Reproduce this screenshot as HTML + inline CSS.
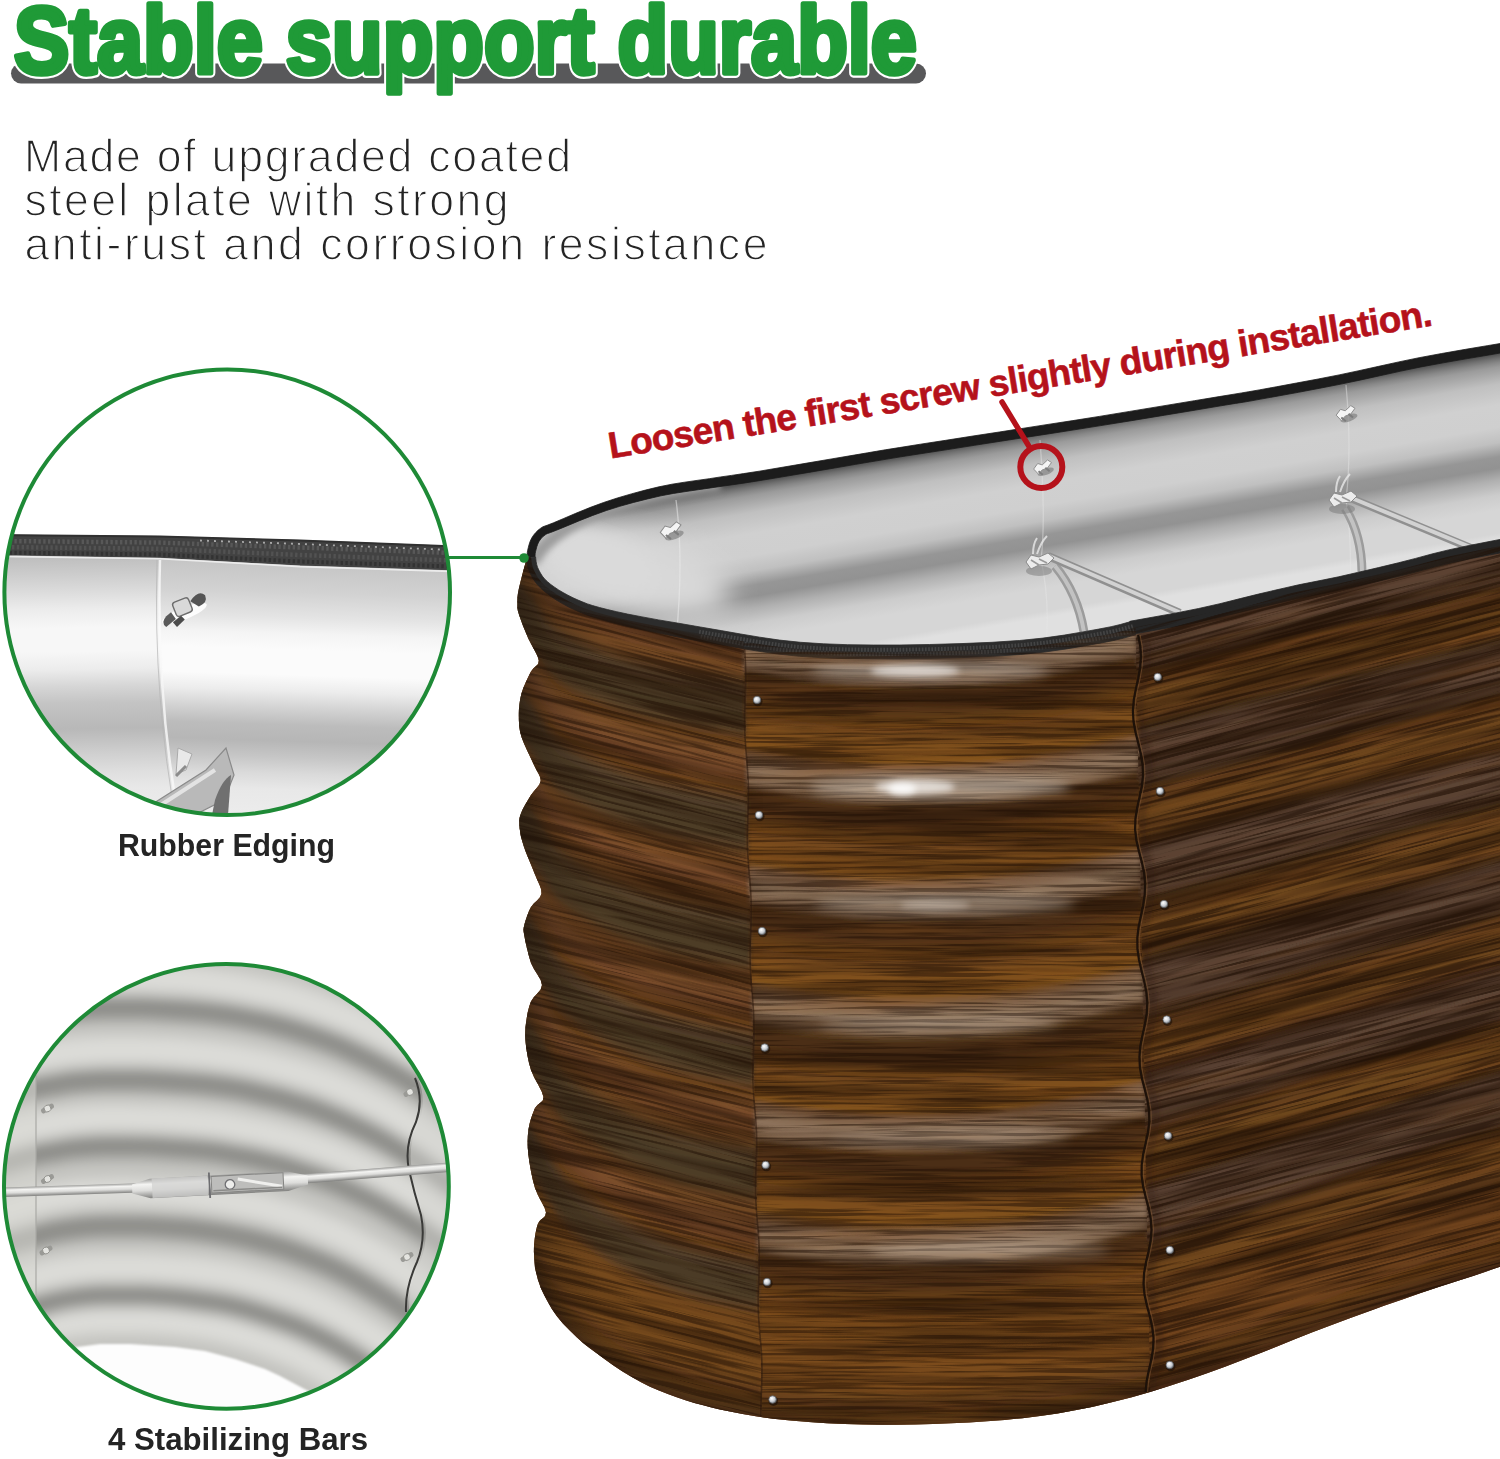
<!DOCTYPE html>
<html><head><meta charset="utf-8"><title>Stable support durable</title>
<style>html,body{margin:0;padding:0;background:#fff;}svg{display:block;}text{font-family:"Liberation Sans",sans-serif;}</style>
</head><body>
<svg width="1500" height="1459" viewBox="0 0 1500 1459">
<defs>
<clipPath id="bodyclip"><path d="M527,557 L525.4,563.2 L523,572.1 L520.6,581.5 L518.8,589 L517.9,593.8 L517.5,597.3 L517.4,600.1 L517.4,603 L517.4,605.6 L517.4,607.8 L517.8,610.4 L518.8,614 L520.6,619.3 L523,625.7 L525.8,632.4 L528.4,638.7 L531.4,644.6 L534.7,650.5 L537.5,656 L538.8,660.6 L538.2,663.9 L536.1,666.1 L533.5,668.3 L531,671.6 L528.6,676.3 L525.9,681.9 L523.4,687.8 L521.5,693.5 L520.2,699 L519.4,704.5 L518.9,710 L518.8,715.5 L518.9,720.8 L519.2,725.9 L520,731.2 L521.5,737 L524.1,743.8 L527.5,751.3 L531.1,758.7 L534,765 L536.5,769.9 L538.7,773.9 L540.3,777.4 L540.7,781 L539.4,784.5 L536.9,787.8 L533.9,791.2 L531,795 L528.3,799.5 L525.3,804.5 L522.6,809.5 L520.7,814 L519.6,817.7 L519.2,821 L519.3,824.3 L519.6,828 L520.2,832.2 L521,836.7 L522.3,841.5 L524,847 L526.4,853.5 L529.4,860.7 L532.4,868 L535,874.5 L537.3,880 L539.6,885 L541.2,889.5 L541.5,893.7 L540,897.3 L537.1,900.4 L533.8,903.5 L531,907 L528.9,911.3 L527,916.2 L525.4,920.9 L524.3,925 L523.7,927.8 L523.5,929.7 L523.7,931.9 L524.3,935.6 L525.4,941.4 L527,948.6 L528.9,956.1 L531,963 L534,969 L537.6,974.7 L540.7,980 L542,985 L540.7,989.4 L537.5,993.3 L533.8,997.2 L531,1001.5 L529.2,1006.6 L527.8,1012.1 L526.8,1017.6 L526,1023 L525.4,1027.9 L525.2,1032.4 L525.2,1037.2 L525.6,1042.6 L526.4,1048.9 L527.5,1055.8 L529,1063 L531,1070 L534.1,1077.2 L538.1,1084.5 L541.7,1091.4 L543.5,1097 L542.8,1100.6 L540.4,1102.8 L537.5,1104.9 L535,1108 L533.1,1112.7 L531.2,1118.1 L529.5,1124 L528.4,1130 L527.8,1135.9 L527.6,1141.8 L527.8,1148.1 L528.4,1155 L529.5,1162.9 L531,1171.5 L532.9,1180.2 L535,1188 L537.9,1195.1 L541.4,1201.7 L544.5,1207.6 L546,1212.6 L545.2,1216 L542.9,1218.2 L540.2,1220.3 L538,1223.5 L536.6,1228.2 L535.4,1233.8 L534.6,1239.7 L534,1245.5 L533.9,1251.6 L534.2,1258.1 L534.7,1263.9 L535,1268 L538,1280 L539.1,1283.1 L540.7,1287.7 L543.3,1293.3 L546.9,1300.2 L551.4,1308.2 L556.7,1316 L562.9,1323.4 L569.8,1330.6 L576.7,1337.3 L583.1,1342.9 L589.5,1348 L596.7,1353.3 L605.1,1359.5 L614.2,1366 L623.3,1372 L632.2,1377.3 L641.1,1382.3 L650,1386.7 L658.9,1390.6 L667.8,1394.1 L676.7,1397.3 L685.6,1400.2 L694.4,1402.9 L703.3,1405.3 L711.6,1407.5 L719.9,1409.4 L730,1411.5 L742.7,1413.9 L757.2,1416.5 L773,1418.7 L790.2,1420.5 L808.7,1422 L827,1423.2 L844.7,1424 L862.4,1424.6 L880,1424.8 L897.6,1424.8 L915.3,1424.5 L933,1424 L951,1423.3 L969,1422.5 L987,1421.3 L1004.7,1419.9 L1022.4,1418.2 L1040,1416 L1057.5,1413.4 L1075,1410.3 L1093,1406.7 L1111.7,1402.3 L1130.9,1397.4 L1150,1392 L1169.1,1386.1 L1188.3,1379.8 L1207,1373.3 L1225,1366.8 L1242.5,1360.1 L1260,1353.3 L1277.6,1346.2 L1295.3,1339.1 L1313,1332 L1331,1325.2 L1349,1318.5 L1367,1312 L1384.7,1305.6 L1402.4,1299.4 L1420,1293.3 L1438.6,1287.1 L1457.3,1281.1 L1473,1276 L1484.9,1272 L1494,1268.8 L1500,1266.7 L1503,545.6 L1503,545.6 L1489.1,548.3 L1469.4,552.2 L1450,556.3 L1433.5,560.4 L1417.3,564.7 L1400,569.2 L1380,574 L1358.9,578.9 L1340,583.2 L1325.2,586.3 L1312.6,588.7 L1300,591.3 L1287.4,594.1 L1274.8,597 L1260,600.5 L1241.8,605 L1221.4,610.1 L1200,615 L1175.1,619.9 L1149.2,624.5 L1131,627.8 L1134,628 L1126.9,629.9 L1116,632.8 L1100,636 L1078.2,639.8 L1051.3,644.1 L1020,647.5 L982.2,649.8 L940,651.3 L900,652 L864.4,652 L831.1,651.1 L800,649.3 L771.9,646.1 L745.9,642 L720,637.5 L691.9,632.6 L663.9,627.5 L640,622.8 L622.4,619 L609.1,615.8 L598,612.8 L589.1,610.1 L582.4,607.6 L576,604.8 L569,601.5 L562.2,597.8 L556,594 L550.4,590.1 L545.4,586.1 L541.2,582 L537.8,577.6 L535.2,573.1 L533.2,568.8 L532,564.5 L531.4,560.4 L531,557.5Z"/></clipPath>
<linearGradient id="ing" gradientUnits="userSpaceOnUse" x1="900" y1="451" x2="934.4" y2="651"><stop offset="0" stop-color="#444"/><stop offset="0.03" stop-color="#555"/><stop offset="0.05" stop-color="#717171"/><stop offset="0.07" stop-color="#888"/><stop offset="0.092" stop-color="#9b9b9b"/><stop offset="0.13" stop-color="#acacac"/><stop offset="0.175" stop-color="#c0c0c0"/><stop offset="0.277" stop-color="#d0d0d0"/><stop offset="0.384" stop-color="#cfcfcf"/><stop offset="0.459" stop-color="#c0c0c0"/><stop offset="0.529" stop-color="#969696"/><stop offset="0.583" stop-color="#929292"/><stop offset="0.641" stop-color="#b0b0b0"/><stop offset="0.714" stop-color="#cccccc"/><stop offset="0.787" stop-color="#d6d6d6"/><stop offset="0.898" stop-color="#d6d6d6"/><stop offset="0.93" stop-color="#e0e0e0"/><stop offset="1" stop-color="#e0e0e0"/></linearGradient>
<clipPath id="inclip"><path d="M531,557 L531,556 L531.1,554.7 L531.2,553 L531.6,551 L532.2,548.5 L533,545.7 L533.9,542.7 L535.2,540 L536.8,537.6 L538.6,535.4 L540.7,533.3 L543,531.5 L544.8,530.4 L546.4,529.7 L549.2,528.7 L555,526.5 L564.7,522.4 L577.3,517.1 L591.3,511.5 L605,506.5 L618.5,502.2 L632.5,498.1 L646.5,494.5 L660,491.3 L672.9,488.8 L685.3,486.8 L697.6,485.1 L710,483.3 L721.4,481.6 L732.2,480.1 L744.3,478.3 L760,475.8 L781.8,472.2 L807.8,467.7 L833.7,463.3 L855,459.7 L868.5,457.4 L877.2,455.9 L886.1,454.4 L900,452.2 L921.1,448.9 L946.6,444.9 L973.7,440.7 L1000,436.6 L1024.5,432.8 L1048.8,429.1 L1073.6,425.2 L1100,421 L1130.5,416 L1163.8,410.5 L1195.2,405.3 L1220,401.2 L1234.7,398.8 L1242.5,397.5 L1249.1,396.5 L1260,394.5 L1277.2,391.4 L1297.5,387.7 L1319.1,383.6 L1340,379.5 L1359.9,375.3 L1379.8,370.9 L1399.8,366.5 L1420,362.3 L1442.5,358.1 L1466.5,354 L1488,350.3 L1503,347.8 L1500,546 L1503,545.6 L1489.1,548.3 L1469.4,552.2 L1450,556.3 L1433.5,560.4 L1417.3,564.7 L1400,569.2 L1380,574 L1358.9,578.9 L1340,583.2 L1325.2,586.3 L1312.6,588.7 L1300,591.3 L1287.4,594.1 L1274.8,597 L1260,600.5 L1241.8,605 L1221.4,610.1 L1200,615 L1175.1,619.9 L1149.2,624.5 L1131,627.8 L1134,628 L1129,629.4 L1122,631.3 L1112.5,633.6 L1100,636 L1084.2,638.8 L1065.4,642 L1043.9,645 L1020,647.5 L992.3,649.3 L961.2,650.6 L929.5,651.5 L900,652 L873.1,652 L847.5,651.7 L823.1,650.8 L800,649.3 L778.6,647.1 L758.8,644.1 L739.5,640.9 L720,637.5 L699.1,633.9 L677.6,630 L657.3,626.2 L640,622.8 L626.4,619.9 L615.4,617.4 L606.2,615 L598,612.8 L591,610.7 L585.6,608.8 L580.9,607 L576,604.8 L570.7,602.3 L565.5,599.6 L560.6,596.9 L556,594 L551.8,591.1 L547.9,588.1 L544.3,585.1 L541.2,582 L538.6,578.7 L536.4,575.4 L534.6,572 L533.2,568.8 L532.2,565.6 L531.6,562.3 L531.3,559.5 L531,557.5Z"/></clipPath>
<filter id="b8" x="-20%" y="-20%" width="140%" height="140%"><feGaussianBlur stdDeviation="8"/></filter>
<filter id="b14" x="-30%" y="-30%" width="160%" height="160%"><feGaussianBlur stdDeviation="14"/></filter>
<filter id="b3" filterUnits="userSpaceOnUse" x="480" y="330" width="1040" height="1130"><feGaussianBlur stdDeviation="3"/></filter>
<filter id="b6" filterUnits="userSpaceOnUse" x="480" y="330" width="1040" height="1130"><feGaussianBlur stdDeviation="6"/></filter>
<filter id="b2" filterUnits="userSpaceOnUse" x="480" y="330" width="1040" height="1130"><feGaussianBlur stdDeviation="2"/></filter>
<filter id="b1"><feGaussianBlur stdDeviation="1"/></filter>
<filter id="grainA" x="0" y="0" width="100%" height="100%" color-interpolation-filters="sRGB"><feTurbulence type="fractalNoise" baseFrequency="0.0025 0.06" numOctaves="4" seed="7"/><feColorMatrix type="matrix" values="0 0 0 0 0.15  0 0 0 0 0.08  0 0 0 0 0.03  3.2 0 0 0 -1.35"/></filter>
<filter id="grainB" x="0" y="0" width="100%" height="100%" color-interpolation-filters="sRGB"><feTurbulence type="fractalNoise" baseFrequency="0.008 0.3" numOctaves="3" seed="11"/><feColorMatrix type="matrix" values="0 0 0 0 0.12  0 0 0 0 0.06  0 0 0 0 0.02  5 0 0 0 -2.3"/></filter>
<filter id="grainL" x="0" y="0" width="100%" height="100%" color-interpolation-filters="sRGB"><feTurbulence type="fractalNoise" baseFrequency="0.004 0.06" numOctaves="4" seed="23"/><feColorMatrix type="matrix" values="0 0 0 0 0.72  0 0 0 0 0.42  0 0 0 0 0.14  2.2 0 0 0 -1.2"/></filter>
<clipPath id="pL" clip-path="url(#bodyclip)"><path d="M480,500 L743,611 L763,1456 L480,1459Z"/></clipPath>
<clipPath id="pC" clip-path="url(#bodyclip)"><path d="M743,611 L1135,597 L1151,1430 L763,1456Z"/></clipPath>
<clipPath id="pR" clip-path="url(#bodyclip)"><path d="M1135,597 L1500,500 L1500,1459 L1151,1430Z"/></clipPath>
<linearGradient id="ledge" x1="0" y1="0" x2="1" y2="0"><stop offset="0" stop-color="#1c120a" stop-opacity="0.55"/><stop offset="0.5" stop-color="#1c120a" stop-opacity="0.18"/><stop offset="1" stop-color="#1c120a" stop-opacity="0"/></linearGradient>
<radialGradient id="scr" cx="0.4" cy="0.35" r="0.7"><stop offset="0" stop-color="#ffffff"/><stop offset="0.55" stop-color="#c9cdd2"/><stop offset="1" stop-color="#6d7177"/></radialGradient>
<clipPath id="c1"><circle cx="227.2" cy="592.2" r="222.8"/></clipPath>
<clipPath id="c2"><circle cx="226.4" cy="1186.4" r="222.4"/></clipPath>
<filter id="cb7" filterUnits="userSpaceOnUse" x="-20" y="340" width="500" height="1100"><feGaussianBlur stdDeviation="7"/></filter>
<filter id="cb4" filterUnits="userSpaceOnUse" x="-20" y="340" width="500" height="1100"><feGaussianBlur stdDeviation="4"/></filter>
<filter id="cb15" filterUnits="userSpaceOnUse" x="-20" y="340" width="500" height="1100"><feGaussianBlur stdDeviation="1.2"/></filter>
<linearGradient id="c1L" gradientUnits="userSpaceOnUse" x1="0" y1="557" x2="4" y2="815"><stop offset="0" stop-color="#bdbdbd"/><stop offset="0.07" stop-color="#cccccc"/><stop offset="0.14" stop-color="#dcdcdc"/><stop offset="0.205" stop-color="#ececec"/><stop offset="0.28" stop-color="#f7f7f7"/><stop offset="0.37" stop-color="#f7f7f7"/><stop offset="0.44" stop-color="#ececec"/><stop offset="0.505" stop-color="#d6d6d6"/><stop offset="0.57" stop-color="#c4c4c4"/><stop offset="0.635" stop-color="#bcbcbc"/><stop offset="0.67" stop-color="#b8b8b8"/><stop offset="0.705" stop-color="#c0c0c0"/><stop offset="0.77" stop-color="#d0d0d0"/><stop offset="0.835" stop-color="#dedede"/><stop offset="0.9" stop-color="#e8e8e8"/><stop offset="1" stop-color="#ececec"/></linearGradient>
<linearGradient id="c1R" gradientUnits="userSpaceOnUse" x1="300" y1="565" x2="292" y2="815"><stop offset="0" stop-color="#c6c6c6"/><stop offset="0.11" stop-color="#d2d2d2"/><stop offset="0.21" stop-color="#e4e4e4"/><stop offset="0.275" stop-color="#f4f4f4"/><stop offset="0.34" stop-color="#fbfbfb"/><stop offset="0.44" stop-color="#fbfbfb"/><stop offset="0.505" stop-color="#ececec"/><stop offset="0.57" stop-color="#d4d4d4"/><stop offset="0.64" stop-color="#bcbcbc"/><stop offset="0.705" stop-color="#b6b6b6"/><stop offset="0.77" stop-color="#c6c6c6"/><stop offset="0.835" stop-color="#dadada"/><stop offset="0.9" stop-color="#e8e8e8"/><stop offset="1" stop-color="#ececec"/></linearGradient>
<linearGradient id="barg" x1="0" y1="0" x2="0" y2="1"><stop offset="0" stop-color="#9d9d9b"/><stop offset="0.28" stop-color="#f4f4f2"/><stop offset="0.6" stop-color="#dcdcda"/><stop offset="1" stop-color="#828280"/></linearGradient>
</defs>
<rect width="1500" height="1459" fill="#fff"/>
<path d="M531,557 L531,556 L531.1,554.7 L531.2,553 L531.6,551 L532.2,548.5 L533,545.7 L533.9,542.7 L535.2,540 L536.8,537.6 L538.6,535.4 L540.7,533.3 L543,531.5 L544.8,530.4 L546.4,529.7 L549.2,528.7 L555,526.5 L564.7,522.4 L577.3,517.1 L591.3,511.5 L605,506.5 L618.5,502.2 L632.5,498.1 L646.5,494.5 L660,491.3 L672.9,488.8 L685.3,486.8 L697.6,485.1 L710,483.3 L721.4,481.6 L732.2,480.1 L744.3,478.3 L760,475.8 L781.8,472.2 L807.8,467.7 L833.7,463.3 L855,459.7 L868.5,457.4 L877.2,455.9 L886.1,454.4 L900,452.2 L921.1,448.9 L946.6,444.9 L973.7,440.7 L1000,436.6 L1024.5,432.8 L1048.8,429.1 L1073.6,425.2 L1100,421 L1130.5,416 L1163.8,410.5 L1195.2,405.3 L1220,401.2 L1234.7,398.8 L1242.5,397.5 L1249.1,396.5 L1260,394.5 L1277.2,391.4 L1297.5,387.7 L1319.1,383.6 L1340,379.5 L1359.9,375.3 L1379.8,370.9 L1399.8,366.5 L1420,362.3 L1442.5,358.1 L1466.5,354 L1488,350.3 L1503,347.8 L1500,546 L1503,545.6 L1489.1,548.3 L1469.4,552.2 L1450,556.3 L1433.5,560.4 L1417.3,564.7 L1400,569.2 L1380,574 L1358.9,578.9 L1340,583.2 L1325.2,586.3 L1312.6,588.7 L1300,591.3 L1287.4,594.1 L1274.8,597 L1260,600.5 L1241.8,605 L1221.4,610.1 L1200,615 L1175.1,619.9 L1149.2,624.5 L1131,627.8 L1134,628 L1129,629.4 L1122,631.3 L1112.5,633.6 L1100,636 L1084.2,638.8 L1065.4,642 L1043.9,645 L1020,647.5 L992.3,649.3 L961.2,650.6 L929.5,651.5 L900,652 L873.1,652 L847.5,651.7 L823.1,650.8 L800,649.3 L778.6,647.1 L758.8,644.1 L739.5,640.9 L720,637.5 L699.1,633.9 L677.6,630 L657.3,626.2 L640,622.8 L626.4,619.9 L615.4,617.4 L606.2,615 L598,612.8 L591,610.7 L585.6,608.8 L580.9,607 L576,604.8 L570.7,602.3 L565.5,599.6 L560.6,596.9 L556,594 L551.8,591.1 L547.9,588.1 L544.3,585.1 L541.2,582 L538.6,578.7 L536.4,575.4 L534.6,572 L533.2,568.8 L532.2,565.6 L531.6,562.3 L531.3,559.5 L531,557.5Z" fill="url(#ing)"/>
<g clip-path="url(#inclip)"><ellipse cx="628" cy="572" rx="105" ry="40" transform="rotate(14 628 572)" fill="#d8d8d8" filter="url(#b14)"/><ellipse cx="600" cy="560" rx="60" ry="26" transform="rotate(20 600 560)" fill="#dadada" filter="url(#b8)"/><path d="M533,562 Q545,535 600,511 Q650,494 720,484" stroke="#9c9c9c" stroke-width="13" fill="none" filter="url(#b3)"/></g>
<g clip-path="url(#inclip)"><path d="M676,500 Q684,560 676,640" fill="none" stroke="#ededed" stroke-width="1.4" opacity="0.5"/><path d="M1040,440 Q1046,520 1041,560 Q1050,600 1046,645" fill="none" stroke="#e6e6e6" stroke-width="1.3" opacity="0.45"/><path d="M1346,385 Q1352,450 1346,500 Q1352,540 1350,590" fill="none" stroke="#e6e6e6" stroke-width="1.3" opacity="0.45"/><g transform="translate(670,530) rotate(-20) scale(1.1)"><ellipse cx="2" cy="6" rx="9" ry="3.5" fill="#6f6f6f" opacity="0.55"/><path d="M-9,-1 l6,-4 l4,3 l7,-3 l3,4 l-6,4 l-6,0 l-5,3z" fill="#f4f4f4" stroke="#8c8c8c" stroke-width="0.9"/><path d="M-5,3 l3,5 M3,2 l3,5" stroke="#7d7d7d" stroke-width="2"/></g><g transform="translate(1042,467) rotate(-20) scale(0.95)"><ellipse cx="2" cy="6" rx="9" ry="3.5" fill="#6f6f6f" opacity="0.55"/><path d="M-9,-1 l6,-4 l4,3 l7,-3 l3,4 l-6,4 l-6,0 l-5,3z" fill="#f4f4f4" stroke="#8c8c8c" stroke-width="0.9"/><path d="M-5,3 l3,5 M3,2 l3,5" stroke="#7d7d7d" stroke-width="2"/></g><g transform="translate(1345,413) rotate(-20) scale(1.0)"><ellipse cx="2" cy="6" rx="9" ry="3.5" fill="#6f6f6f" opacity="0.55"/><path d="M-9,-1 l6,-4 l4,3 l7,-3 l3,4 l-6,4 l-6,0 l-5,3z" fill="#f4f4f4" stroke="#8c8c8c" stroke-width="0.9"/><path d="M-5,3 l3,5 M3,2 l3,5" stroke="#7d7d7d" stroke-width="2"/></g><path d="M1055,566 Q1077.5,593.0 1084,632" fill="none" stroke="#9c9c9c" stroke-width="9"/><path d="M1055,566 Q1077.5,593.0 1084,632" fill="none" stroke="#c2c2c2" stroke-width="4"/><path d="M1048,556 L1180,613" stroke="#909090" stroke-width="8"/><path d="M1048,555.5 L1180,612.5" stroke="#d2d2d2" stroke-width="4"/><path d="M1345,508 Q1361.5,534.0 1362,572" fill="none" stroke="#9c9c9c" stroke-width="9"/><path d="M1345,508 Q1361.5,534.0 1362,572" fill="none" stroke="#c2c2c2" stroke-width="4"/><path d="M1348,497 L1500,560" stroke="#909090" stroke-width="8"/><path d="M1348,496.5 L1500,559.5" stroke="#d2d2d2" stroke-width="4"/><g transform="translate(1037,562)"><ellipse cx="2" cy="9" rx="13" ry="5" fill="#777" opacity="0.5"/><path d="M-11,0 l5,-7 l8,2 l9,-4 l6,5 l-6,6 l-9,1 l-8,4z" fill="#ececec" stroke="#8a8a8a" stroke-width="1"/><path d="M-6,-2 l8,5 M2,-3 l8,4" stroke="#9a9a9a" stroke-width="1.6"/><path d="M0,-8 q4,-12 10,-18 M-4,-8 q0,-10 4,-16" stroke="#e9e9e9" stroke-width="2" fill="none" opacity="0.8"/></g><g transform="translate(1340,500)"><ellipse cx="2" cy="9" rx="13" ry="5" fill="#777" opacity="0.5"/><path d="M-11,0 l5,-7 l8,2 l9,-4 l6,5 l-6,6 l-9,1 l-8,4z" fill="#ececec" stroke="#8a8a8a" stroke-width="1"/><path d="M-6,-2 l8,5 M2,-3 l8,4" stroke="#9a9a9a" stroke-width="1.6"/><path d="M0,-8 q4,-12 10,-18 M-4,-8 q0,-10 4,-16" stroke="#e9e9e9" stroke-width="2" fill="none" opacity="0.8"/></g></g>
<path d="M535,557.2 L535,556.2 L535.1,554.9 L535.2,553.6 L535.5,551.8 L536.1,549.5 L536.8,546.8 L537.7,544.2 L538.7,541.9 L540,540 L541.5,538.1 L543.3,536.3 L545.3,534.8 L546.7,533.9 L547.7,533.5 L550.6,532.5 L556.5,530.2 L566.3,526.2 L578.9,520.9 L592.8,515.4 L606.4,510.5 L619.8,506.3 L633.7,502.4 L647.6,498.9 L661,495.8 L673.7,493.4 L686,491.5 L698.3,489.7 L710.7,487.9 L722.1,486.2 L732.9,484.7 L745,482.9 L760.8,480.4 L782.5,476.8 L808.6,472.4 L834.5,468 L855.8,464.3 L869.3,462 L878,460.6 L886.8,459.1 L900.7,456.8 L921.9,453.5 L947.3,449.6 L974.4,445.3 L1000.7,441.2 L1025.2,437.4 L1049.5,433.7 L1074.3,429.8 L1100.7,425.6 L1131.2,420.7 L1164.5,415.2 L1195.9,410 L1220.8,405.8 L1235.4,403.4 L1243.3,402.2 L1249.9,401.1 L1260.8,399.1 L1278,396 L1298.4,392.3 L1319.9,388.2 L1340.9,384.1 L1360.9,379.9 L1380.8,375.5 L1400.8,371.1 L1420.9,366.9 L1443.3,362.8 L1467.3,358.6 L1488.8,355 L1503.8,352.4 L1502.2,343.2 L1487.2,345.7 L1465.7,349.3 L1441.7,353.5 L1419.1,357.7 L1398.8,361.9 L1378.8,366.3 L1358.9,370.7 L1339.1,374.9 L1318.2,379 L1296.6,383 L1276.3,386.8 L1259.2,389.9 L1248.3,391.8 L1241.7,392.9 L1233.9,394.2 L1219.2,396.6 L1194.4,400.7 L1163,405.9 L1129.7,411.4 L1099.3,416.4 L1072.9,420.6 L1048,424.4 L1023.8,428.2 L999.3,432 L973,436 L945.8,440.3 L920.4,444.2 L899.3,447.6 L885.3,449.8 L876.4,451.3 L867.7,452.8 L854.2,455.1 L832.9,458.7 L807,463.1 L781,467.5 L759.2,471.2 L743.6,473.6 L731.5,475.4 L720.8,476.9 L709.3,478.7 L697,480.4 L684.6,482.2 L672,484.2 L659,486.8 L645.4,490.1 L631.3,493.9 L617.3,498 L603.6,502.5 L589.8,507.6 L575.8,513.3 L563.2,518.7 L553.5,522.8 L547.8,525 L545,526 L542.9,526.8 L540.7,528.2 L538,530.3 L535.6,532.7 L533.5,535.3 L531.7,538.1 L530.2,541.2 L529.1,544.5 L528.3,547.6 L527.7,550.2 L527.3,552.4 L527.1,554.4 L527,555.9 L527,556.8Z" fill="#1c1c1c" stroke="#1c1c1c" stroke-width="0.8" stroke-linejoin="round"/>
<path d="M527,557 L525.4,563.2 L523,572.1 L520.6,581.5 L518.8,589 L517.9,593.8 L517.5,597.3 L517.4,600.1 L517.4,603 L517.4,605.6 L517.4,607.8 L517.8,610.4 L518.8,614 L520.6,619.3 L523,625.7 L525.8,632.4 L528.4,638.7 L531.4,644.6 L534.7,650.5 L537.5,656 L538.8,660.6 L538.2,663.9 L536.1,666.1 L533.5,668.3 L531,671.6 L528.6,676.3 L525.9,681.9 L523.4,687.8 L521.5,693.5 L520.2,699 L519.4,704.5 L518.9,710 L518.8,715.5 L518.9,720.8 L519.2,725.9 L520,731.2 L521.5,737 L524.1,743.8 L527.5,751.3 L531.1,758.7 L534,765 L536.5,769.9 L538.7,773.9 L540.3,777.4 L540.7,781 L539.4,784.5 L536.9,787.8 L533.9,791.2 L531,795 L528.3,799.5 L525.3,804.5 L522.6,809.5 L520.7,814 L519.6,817.7 L519.2,821 L519.3,824.3 L519.6,828 L520.2,832.2 L521,836.7 L522.3,841.5 L524,847 L526.4,853.5 L529.4,860.7 L532.4,868 L535,874.5 L537.3,880 L539.6,885 L541.2,889.5 L541.5,893.7 L540,897.3 L537.1,900.4 L533.8,903.5 L531,907 L528.9,911.3 L527,916.2 L525.4,920.9 L524.3,925 L523.7,927.8 L523.5,929.7 L523.7,931.9 L524.3,935.6 L525.4,941.4 L527,948.6 L528.9,956.1 L531,963 L534,969 L537.6,974.7 L540.7,980 L542,985 L540.7,989.4 L537.5,993.3 L533.8,997.2 L531,1001.5 L529.2,1006.6 L527.8,1012.1 L526.8,1017.6 L526,1023 L525.4,1027.9 L525.2,1032.4 L525.2,1037.2 L525.6,1042.6 L526.4,1048.9 L527.5,1055.8 L529,1063 L531,1070 L534.1,1077.2 L538.1,1084.5 L541.7,1091.4 L543.5,1097 L542.8,1100.6 L540.4,1102.8 L537.5,1104.9 L535,1108 L533.1,1112.7 L531.2,1118.1 L529.5,1124 L528.4,1130 L527.8,1135.9 L527.6,1141.8 L527.8,1148.1 L528.4,1155 L529.5,1162.9 L531,1171.5 L532.9,1180.2 L535,1188 L537.9,1195.1 L541.4,1201.7 L544.5,1207.6 L546,1212.6 L545.2,1216 L542.9,1218.2 L540.2,1220.3 L538,1223.5 L536.6,1228.2 L535.4,1233.8 L534.6,1239.7 L534,1245.5 L533.9,1251.6 L534.2,1258.1 L534.7,1263.9 L535,1268 L538,1280 L539.1,1283.1 L540.7,1287.7 L543.3,1293.3 L546.9,1300.2 L551.4,1308.2 L556.7,1316 L562.9,1323.4 L569.8,1330.6 L576.7,1337.3 L583.1,1342.9 L589.5,1348 L596.7,1353.3 L605.1,1359.5 L614.2,1366 L623.3,1372 L632.2,1377.3 L641.1,1382.3 L650,1386.7 L658.9,1390.6 L667.8,1394.1 L676.7,1397.3 L685.6,1400.2 L694.4,1402.9 L703.3,1405.3 L711.6,1407.5 L719.9,1409.4 L730,1411.5 L742.7,1413.9 L757.2,1416.5 L773,1418.7 L790.2,1420.5 L808.7,1422 L827,1423.2 L844.7,1424 L862.4,1424.6 L880,1424.8 L897.6,1424.8 L915.3,1424.5 L933,1424 L951,1423.3 L969,1422.5 L987,1421.3 L1004.7,1419.9 L1022.4,1418.2 L1040,1416 L1057.5,1413.4 L1075,1410.3 L1093,1406.7 L1111.7,1402.3 L1130.9,1397.4 L1150,1392 L1169.1,1386.1 L1188.3,1379.8 L1207,1373.3 L1225,1366.8 L1242.5,1360.1 L1260,1353.3 L1277.6,1346.2 L1295.3,1339.1 L1313,1332 L1331,1325.2 L1349,1318.5 L1367,1312 L1384.7,1305.6 L1402.4,1299.4 L1420,1293.3 L1438.6,1287.1 L1457.3,1281.1 L1473,1276 L1484.9,1272 L1494,1268.8 L1500,1266.7 L1503,545.6 L1503,545.6 L1489.1,548.3 L1469.4,552.2 L1450,556.3 L1433.5,560.4 L1417.3,564.7 L1400,569.2 L1380,574 L1358.9,578.9 L1340,583.2 L1325.2,586.3 L1312.6,588.7 L1300,591.3 L1287.4,594.1 L1274.8,597 L1260,600.5 L1241.8,605 L1221.4,610.1 L1200,615 L1175.1,619.9 L1149.2,624.5 L1131,627.8 L1134,628 L1126.9,629.9 L1116,632.8 L1100,636 L1078.2,639.8 L1051.3,644.1 L1020,647.5 L982.2,649.8 L940,651.3 L900,652 L864.4,652 L831.1,651.1 L800,649.3 L771.9,646.1 L745.9,642 L720,637.5 L691.9,632.6 L663.9,627.5 L640,622.8 L622.4,619 L609.1,615.8 L598,612.8 L589.1,610.1 L582.4,607.6 L576,604.8 L569,601.5 L562.2,597.8 L556,594 L550.4,590.1 L545.4,586.1 L541.2,582 L537.8,577.6 L535.2,573.1 L533.2,568.8 L532,564.5 L531.4,560.4 L531,557.5Z" fill="#6b3d17"/>
<g clip-path="url(#bodyclip)"><g fill="none" stroke-width="8.5" filter="url(#b2)"><path d="M500,510 L507,519 L517,532 L528,544 L535,555 L542,566 L553,576 L569,585 L588,593 L607,600 L623,604 L639,608 L659,612 L685,617 L715,621 L743,626" stroke="#6b431f"/><path d="M500,515 L507,524 L518,537 L528,549 L535,560 L542,571 L553,581 L569,590 L588,598 L607,605 L623,610 L640,613 L659,617 L685,622 L715,627 L744,631" stroke="#714722"/><path d="M500,520 L507,529 L518,542 L528,554 L535,565 L542,576 L553,586 L569,595 L588,603 L607,610 L623,615 L640,619 L660,623 L686,627 L715,632 L744,637" stroke="#774b26"/><path d="M500,525 L507,534 L518,547 L528,559 L535,570 L543,581 L553,591 L569,600 L588,608 L607,615 L623,620 L640,624 L660,628 L686,633 L715,637 L744,642" stroke="#7c4f2a"/><path d="M500,530 L507,539 L518,552 L528,564 L535,575 L543,586 L553,596 L569,605 L588,613 L607,620 L624,625 L640,629 L660,633 L686,638 L715,643 L744,647" stroke="#794c2a"/><path d="M500,535 L507,544 L518,557 L528,569 L536,580 L543,591 L553,601 L569,610 L588,619 L607,625 L624,631 L640,635 L660,639 L686,643 L716,648 L744,653" stroke="#774a2a"/><path d="M500,540 L508,549 L518,562 L528,574 L536,586 L543,596 L553,606 L569,616 L588,624 L607,631 L624,636 L640,640 L660,644 L686,649 L716,653 L744,658" stroke="#754828"/><path d="M500,545 L508,554 L518,567 L528,579 L536,591 L543,601 L553,612 L569,621 L588,629 L607,636 L624,641 L641,645 L661,649 L686,654 L716,659 L744,663" stroke="#734725"/><path d="M500,550 L508,559 L518,572 L528,584 L536,596 L543,607 L553,617 L569,626 L588,634 L607,641 L624,646 L641,650 L661,655 L687,659 L716,664 L744,669" stroke="#714622"/><path d="M501,555 L508,564 L518,577 L528,589 L536,601 L543,612 L553,622 L569,631 L588,639 L607,646 L624,652 L641,656 L661,660 L687,665 L716,669 L745,674" stroke="#6e4520"/><path d="M501,560 L508,569 L518,582 L529,594 L536,606 L543,617 L554,627 L569,636 L588,644 L608,651 L624,657 L641,661 L661,665 L687,670 L716,675 L745,679" stroke="#644324"/><path d="M501,565 L508,574 L518,587 L529,599 L536,611 L543,622 L554,632 L569,641 L589,649 L608,657 L624,662 L641,666 L661,670 L687,675 L716,680 L745,685" stroke="#5b4127"/><path d="M501,570 L508,579 L519,592 L529,605 L536,616 L543,627 L554,637 L570,646 L589,655 L608,662 L625,667 L641,671 L661,676 L687,681 L717,685 L745,690" stroke="#53402a"/><path d="M501,575 L508,584 L519,597 L529,610 L536,621 L543,632 L554,642 L570,651 L589,660 L608,667 L625,672 L641,677 L662,681 L688,686 L717,691 L745,695" stroke="#513e29"/><path d="M501,580 L508,589 L519,602 L529,615 L536,626 L543,637 L554,647 L570,656 L589,665 L608,672 L625,678 L642,682 L662,686 L688,691 L717,696 L745,701" stroke="#4e3c28"/><path d="M501,585 L508,594 L519,607 L529,620 L536,631 L544,642 L554,652 L570,661 L589,670 L608,677 L625,683 L642,687 L662,692 L688,697 L717,701 L745,706" stroke="#4b3b27"/><path d="M501,590 L509,599 L519,612 L529,625 L537,636 L544,647 L554,657 L570,666 L589,675 L608,683 L625,688 L642,693 L662,697 L688,702 L717,707 L745,711" stroke="#4b3b26"/><path d="M501,595 L509,604 L519,617 L529,630 L537,641 L544,652 L554,662 L570,672 L589,680 L608,688 L625,693 L642,698 L662,702 L688,707 L717,712 L746,717" stroke="#4c3c27"/><path d="M502,600 L509,609 L519,622 L529,635 L537,646 L544,657 L554,667 L570,677 L589,685 L608,693 L625,699 L642,703 L663,708 L688,712 L717,717 L746,722" stroke="#4e3d27"/><path d="M502,605 L509,614 L519,627 L529,640 L537,651 L544,662 L554,672 L570,682 L589,691 L608,698 L625,704 L642,708 L663,713 L689,718 L718,723 L746,727" stroke="#503e28"/><path d="M502,610 L509,619 L519,632 L529,645 L537,656 L544,667 L554,677 L570,687 L589,696 L608,703 L625,709 L643,714 L663,718 L689,723 L718,728 L746,733" stroke="#573f26"/><path d="M502,615 L509,624 L519,637 L530,650 L537,661 L544,672 L555,682 L570,692 L589,701 L609,708 L626,714 L643,719 L663,724 L689,728 L718,733 L746,738" stroke="#614123"/><path d="M502,620 L509,629 L520,642 L530,655 L537,666 L544,677 L555,687 L570,697 L589,706 L609,714 L626,720 L643,724 L663,729 L689,734 L718,739 L746,743" stroke="#6b431f"/><path d="M502,625 L509,634 L520,647 L530,660 L537,671 L544,682 L555,693 L571,702 L590,711 L609,719 L626,725 L643,730 L663,734 L689,739 L718,744 L746,748" stroke="#714722"/><path d="M502,630 L509,639 L520,652 L530,665 L537,676 L544,687 L555,698 L571,707 L590,716 L609,724 L626,730 L643,735 L664,739 L689,744 L718,749 L746,754" stroke="#764b26"/><path d="M502,635 L510,644 L520,657 L530,670 L537,681 L544,692 L555,703 L571,712 L590,721 L609,729 L626,735 L643,740 L664,745 L690,750 L718,755 L747,759" stroke="#7c4f2a"/><path d="M502,640 L510,649 L520,662 L530,675 L537,686 L545,697 L555,708 L571,717 L590,727 L609,734 L626,740 L644,745 L664,750 L690,755 L719,760 L747,764" stroke="#7a4d2a"/><path d="M503,645 L510,654 L520,667 L530,680 L537,691 L545,702 L555,713 L571,723 L590,732 L609,740 L626,746 L644,751 L664,755 L690,760 L719,765 L747,770" stroke="#784b2a"/><path d="M503,650 L510,659 L520,672 L530,685 L538,696 L545,707 L555,718 L571,728 L590,737 L609,745 L626,751 L644,756 L664,761 L690,766 L719,771 L747,775" stroke="#754929"/><path d="M503,655 L510,664 L520,677 L530,690 L538,701 L545,712 L555,723 L571,733 L590,742 L609,750 L627,756 L644,761 L665,766 L690,771 L719,776 L747,780" stroke="#744726"/><path d="M503,660 L510,669 L520,682 L530,695 L538,706 L545,717 L555,728 L571,738 L590,747 L609,755 L627,761 L644,766 L665,771 L691,776 L719,781 L747,786" stroke="#724622"/><path d="M503,665 L510,674 L520,687 L530,700 L538,711 L545,722 L555,733 L571,743 L590,752 L609,760 L627,767 L644,772 L665,777 L691,782 L719,787 L747,791" stroke="#6f451f"/><path d="M503,670 L510,679 L521,692 L530,705 L538,716 L545,728 L555,738 L571,748 L590,757 L609,766 L627,772 L645,777 L665,782 L691,787 L719,792 L747,796" stroke="#654323"/><path d="M503,675 L510,684 L521,697 L531,710 L538,721 L545,733 L556,743 L571,753 L590,763 L610,771 L627,777 L645,782 L665,787 L691,792 L720,797 L748,802" stroke="#5b4127"/><path d="M503,680 L510,689 L521,702 L531,715 L538,726 L545,738 L556,748 L571,758 L590,768 L610,776 L627,782 L645,788 L666,793 L691,798 L720,803 L748,807" stroke="#53402a"/><path d="M503,685 L511,694 L521,707 L531,720 L538,731 L545,743 L556,753 L572,763 L591,773 L610,781 L627,788 L645,793 L666,798 L691,803 L720,808 L748,812" stroke="#503e29"/><path d="M504,690 L511,699 L521,712 L531,725 L538,736 L545,748 L556,758 L572,768 L591,778 L610,786 L627,793 L645,798 L666,803 L692,808 L720,813 L748,818" stroke="#4e3c27"/><path d="M504,695 L511,704 L521,717 L531,730 L538,741 L546,753 L556,763 L572,774 L591,783 L610,791 L628,798 L645,803 L666,809 L692,814 L720,819 L748,823" stroke="#4b3b26"/><path d="M504,700 L511,709 L521,722 L531,735 L538,747 L546,758 L556,768 L572,779 L591,788 L610,797 L628,803 L646,809 L666,814 L692,819 L720,824 L748,828" stroke="#4b3b26"/><path d="M504,705 L511,714 L521,727 L531,740 L539,752 L546,763 L556,773 L572,784 L591,793 L610,802 L628,809 L646,814 L666,819 L692,824 L721,829 L748,834" stroke="#4d3c27"/><path d="M504,710 L511,719 L521,732 L531,745 L539,757 L546,768 L556,779 L572,789 L591,799 L610,807 L628,814 L646,819 L667,824 L692,830 L721,835 L748,839" stroke="#4e3d27"/><path d="M504,715 L511,724 L521,737 L531,750 L539,762 L546,773 L556,784 L572,794 L591,804 L610,812 L628,819 L646,825 L667,830 L692,835 L721,840 L749,844" stroke="#503e28"/><path d="M504,720 L511,729 L521,742 L531,755 L539,767 L546,778 L556,789 L572,799 L591,809 L610,817 L628,824 L646,830 L667,835 L693,840 L721,845 L749,850" stroke="#5a4025"/><path d="M504,725 L511,734 L522,747 L531,760 L539,772 L546,783 L556,794 L572,804 L591,814 L610,823 L628,829 L646,835 L667,840 L693,846 L721,851 L749,855" stroke="#644222"/><path d="M504,729 L512,739 L522,752 L532,765 L539,777 L546,788 L557,799 L572,809 L591,819 L611,828 L628,835 L647,840 L667,846 L693,851 L721,856 L749,860" stroke="#6d4420"/><path d="M505,734 L512,744 L522,757 L532,770 L539,782 L546,793 L557,804 L572,814 L591,824 L611,833 L629,840 L647,846 L668,851 L693,856 L721,861 L749,866" stroke="#734824"/><path d="M505,739 L512,749 L522,762 L532,775 L539,787 L546,798 L557,809 L572,819 L591,829 L611,838 L629,845 L647,851 L668,856 L693,862 L722,867 L749,871" stroke="#794c28"/><path d="M505,744 L512,754 L522,767 L532,780 L539,792 L546,803 L557,814 L573,824 L592,835 L611,843 L629,850 L647,856 L668,862 L693,867 L722,872 L749,876" stroke="#7b4e2a"/><path d="M505,749 L512,759 L522,772 L532,785 L539,797 L547,808 L557,819 L573,830 L592,840 L611,848 L629,856 L647,861 L668,867 L694,872 L722,877 L749,882" stroke="#794c2a"/><path d="M505,754 L512,764 L522,777 L532,790 L539,802 L547,813 L557,824 L573,835 L592,845 L611,854 L629,861 L647,867 L668,872 L694,878 L722,883 L750,887" stroke="#76492a"/><path d="M505,759 L512,769 L522,782 L532,795 L540,807 L547,818 L557,829 L573,840 L592,850 L611,859 L629,866 L648,872 L669,878 L694,883 L722,888 L750,892" stroke="#754827"/><path d="M505,764 L512,774 L522,787 L532,800 L540,812 L547,823 L557,834 L573,845 L592,855 L611,864 L629,871 L648,877 L669,883 L694,888 L722,893 L750,898" stroke="#734724"/><path d="M505,769 L512,779 L522,792 L532,805 L540,817 L547,828 L557,839 L573,850 L592,860 L611,869 L629,877 L648,883 L669,888 L694,894 L722,898 L750,903" stroke="#714621"/><path d="M505,774 L512,784 L523,797 L532,810 L540,822 L547,833 L557,844 L573,855 L592,865 L611,874 L629,882 L648,888 L669,893 L695,899 L723,904 L750,908" stroke="#6c4421"/><path d="M506,779 L513,789 L523,802 L532,815 L540,827 L547,838 L557,849 L573,860 L592,871 L611,880 L630,887 L648,893 L669,899 L695,904 L723,909 L750,914" stroke="#624324"/><path d="M506,784 L513,794 L523,807 L533,820 L540,832 L547,843 L558,854 L573,865 L592,876 L612,885 L630,892 L648,898 L669,904 L695,910 L723,914 L750,919" stroke="#594128"/><path d="M506,789 L513,799 L523,812 L533,825 L540,837 L547,848 L558,860 L573,870 L592,881 L612,890 L630,897 L648,904 L670,909 L695,915 L723,920 L750,924" stroke="#533f2a"/><path d="M506,794 L513,804 L523,817 L533,830 L540,842 L547,854 L558,865 L573,875 L592,886 L612,895 L630,903 L649,909 L670,915 L695,920 L723,925 L751,930" stroke="#503e28"/><path d="M506,799 L513,809 L523,822 L533,835 L540,847 L547,859 L558,870 L574,881 L592,891 L612,900 L630,908 L649,914 L670,920 L695,926 L723,930 L751,935" stroke="#4e3c27"/><path d="M506,804 L513,814 L523,827 L533,840 L540,852 L548,864 L558,875 L574,886 L593,896 L612,906 L630,913 L649,920 L670,925 L696,931 L723,936 L751,940" stroke="#4b3b26"/><path d="M506,809 L513,819 L523,832 L533,845 L540,857 L548,869 L558,880 L574,891 L593,901 L612,911 L630,918 L649,925 L670,931 L696,936 L724,941 L751,946" stroke="#4b3b26"/><path d="M506,814 L513,824 L523,837 L533,850 L541,862 L548,874 L558,885 L574,896 L593,906 L612,916 L630,924 L649,930 L671,936 L696,942 L724,946 L751,951" stroke="#4d3c27"/><path d="M506,819 L513,829 L523,842 L533,856 L541,867 L548,879 L558,890 L574,901 L593,912 L612,921 L631,929 L649,935 L671,941 L696,947 L724,952 L751,956" stroke="#4e3d27"/><path d="M507,824 L514,834 L524,847 L533,861 L541,872 L548,884 L558,895 L574,906 L593,917 L612,926 L631,934 L650,941 L671,947 L696,952 L724,957 L751,962" stroke="#503e28"/><path d="M507,829 L514,839 L524,852 L533,866 L541,877 L548,889 L558,900 L574,911 L593,922 L612,931 L631,939 L650,946 L671,952 L696,957 L724,962 L751,967" stroke="#573f26"/><path d="M507,834 L514,844 L524,857 L533,871 L541,882 L548,894 L558,905 L574,916 L593,927 L612,937 L631,945 L650,951 L671,957 L697,963 L724,968 L752,972" stroke="#614123"/><path d="M507,839 L514,849 L524,862 L534,876 L541,887 L548,899 L559,910 L574,921 L593,932 L613,942 L631,950 L650,956 L672,963 L697,968 L724,973 L752,978" stroke="#6a4320"/><path d="M507,844 L514,854 L524,867 L534,881 L541,892 L548,904 L559,915 L574,926 L593,937 L613,947 L631,955 L650,962 L672,968 L697,973 L725,978 L752,983" stroke="#714622"/><path d="M507,849 L514,859 L524,872 L534,886 L541,897 L548,909 L559,920 L574,932 L593,942 L613,952 L631,960 L650,967 L672,973 L697,979 L725,984 L752,988" stroke="#764a26"/><path d="M507,854 L514,864 L524,877 L534,891 L541,902 L548,914 L559,925 L574,937 L593,948 L613,957 L631,965 L651,972 L672,978 L697,984 L725,989 L752,994" stroke="#7b4f2a"/><path d="M507,859 L514,869 L524,882 L534,896 L541,907 L548,919 L559,930 L575,942 L593,953 L613,963 L632,971 L651,978 L672,984 L698,989 L725,994 L752,999" stroke="#7a4d2a"/><path d="M507,864 L514,874 L524,887 L534,901 L541,913 L549,924 L559,935 L575,947 L594,958 L613,968 L632,976 L651,983 L672,989 L698,995 L725,1000 L752,1004" stroke="#784b2a"/><path d="M508,869 L514,879 L524,892 L534,906 L541,918 L549,929 L559,941 L575,952 L594,963 L613,973 L632,981 L651,988 L673,994 L698,1000 L725,1005 L752,1010" stroke="#764929"/><path d="M508,874 L515,883 L524,897 L534,911 L542,923 L549,934 L559,946 L575,957 L594,968 L613,978 L632,986 L651,993 L673,1000 L698,1005 L725,1010 L753,1015" stroke="#744826"/><path d="M508,879 L515,888 L525,902 L534,916 L542,928 L549,939 L559,951 L575,962 L594,973 L613,983 L632,992 L651,999 L673,1005 L698,1011 L726,1016 L753,1020" stroke="#724623"/><path d="M508,884 L515,893 L525,907 L534,921 L542,933 L549,944 L559,956 L575,967 L594,978 L613,989 L632,997 L652,1004 L673,1010 L698,1016 L726,1021 L753,1026" stroke="#70451f"/><path d="M508,889 L515,898 L525,912 L534,926 L542,938 L549,949 L559,961 L575,972 L594,984 L613,994 L632,1002 L652,1009 L673,1016 L699,1021 L726,1026 L753,1031" stroke="#674323"/><path d="M508,894 L515,903 L525,917 L535,931 L542,943 L549,954 L560,966 L575,977 L594,989 L614,999 L632,1007 L652,1015 L674,1021 L699,1027 L726,1032 L753,1036" stroke="#5d4227"/><path d="M508,899 L515,908 L525,922 L535,936 L542,948 L549,959 L560,971 L575,982 L594,994 L614,1004 L633,1013 L652,1020 L674,1026 L699,1032 L726,1037 L753,1042" stroke="#54402a"/><path d="M508,904 L515,913 L525,927 L535,941 L542,953 L549,964 L560,976 L575,988 L594,999 L614,1009 L633,1018 L652,1025 L674,1032 L699,1037 L726,1042 L753,1047" stroke="#513e29"/><path d="M508,909 L515,918 L525,932 L535,946 L542,958 L549,969 L560,981 L575,993 L594,1004 L614,1014 L633,1023 L652,1030 L674,1037 L699,1043 L726,1048 L753,1052" stroke="#4e3d28"/><path d="M509,914 L515,923 L525,937 L535,951 L542,963 L549,975 L560,986 L576,998 L594,1009 L614,1020 L633,1028 L653,1036 L674,1042 L699,1048 L727,1053 L754,1058" stroke="#4c3b27"/><path d="M509,919 L516,928 L525,942 L535,956 L542,968 L550,980 L560,991 L576,1003 L594,1014 L614,1025 L633,1033 L653,1041 L675,1048 L700,1053 L727,1058 L754,1063" stroke="#4b3a26"/><path d="M509,924 L516,933 L525,947 L535,961 L542,973 L550,985 L560,996 L576,1008 L595,1020 L614,1030 L633,1039 L653,1046 L675,1053 L700,1059 L727,1064 L754,1068" stroke="#4c3c27"/><path d="M509,929 L516,938 L526,952 L535,966 L543,978 L550,990 L560,1001 L576,1013 L595,1025 L614,1035 L633,1044 L653,1051 L675,1058 L700,1064 L727,1069 L754,1074" stroke="#4e3d27"/><path d="M509,934 L516,943 L526,957 L535,971 L543,983 L550,995 L560,1006 L576,1018 L595,1030 L614,1040 L633,1049 L653,1057 L675,1063 L700,1069 L727,1074 L754,1079" stroke="#503e28"/><path d="M509,939 L516,948 L526,962 L535,976 L543,988 L550,1000 L560,1011 L576,1023 L595,1035 L614,1046 L633,1054 L653,1062 L675,1069 L700,1075 L727,1080 L754,1084" stroke="#583f26"/><path d="M509,944 L516,953 L526,967 L535,981 L543,993 L550,1005 L560,1016 L576,1028 L595,1040 L614,1051 L634,1060 L654,1067 L675,1074 L700,1080 L728,1085 L754,1090" stroke="#624122"/><path d="M509,949 L516,958 L526,972 L536,986 L543,998 L550,1010 L561,1021 L576,1033 L595,1045 L615,1056 L634,1065 L654,1073 L676,1079 L701,1085 L728,1090 L754,1095" stroke="#6b431f"/><path d="M509,954 L516,963 L526,977 L536,991 L543,1003 L550,1015 L561,1027 L576,1039 L595,1050 L615,1061 L634,1070 L654,1078 L676,1085 L701,1091 L728,1096 L755,1100" stroke="#714723"/><path d="M510,958 L516,968 L526,982 L536,996 L543,1008 L550,1020 L561,1032 L576,1044 L595,1056 L615,1066 L634,1075 L654,1083 L676,1090 L701,1096 L728,1101 L755,1105" stroke="#774b27"/><path d="M510,963 L516,973 L526,987 L536,1001 L543,1013 L550,1025 L561,1037 L576,1049 L595,1061 L615,1071 L634,1081 L654,1088 L676,1095 L701,1101 L728,1106 L755,1111" stroke="#7c4f2a"/><path d="M510,968 L517,978 L526,992 L536,1006 L543,1018 L550,1030 L561,1042 L576,1054 L595,1066 L615,1077 L634,1086 L654,1094 L676,1101 L701,1107 L728,1112 L755,1116" stroke="#794c2a"/><path d="M510,973 L517,983 L526,997 L536,1011 L543,1023 L551,1035 L561,1047 L577,1059 L595,1071 L615,1082 L634,1091 L655,1099 L677,1106 L702,1112 L728,1117 L755,1121" stroke="#774a2a"/><path d="M510,978 L517,988 L526,1002 L536,1016 L543,1028 L551,1040 L561,1052 L577,1064 L595,1076 L615,1087 L634,1096 L655,1104 L677,1111 L702,1117 L729,1122 L755,1127" stroke="#754828"/><path d="M510,983 L517,993 L527,1007 L536,1021 L544,1033 L551,1045 L561,1057 L577,1069 L596,1081 L615,1092 L635,1101 L655,1110 L677,1117 L702,1123 L729,1128 L755,1132" stroke="#734725"/><path d="M510,988 L517,998 L527,1012 L536,1026 L544,1038 L551,1050 L561,1062 L577,1074 L596,1086 L615,1097 L635,1107 L655,1115 L677,1122 L702,1128 L729,1133 L755,1137" stroke="#714621"/><path d="M510,993 L517,1003 L527,1017 L536,1031 L544,1043 L551,1055 L561,1067 L577,1079 L596,1092 L615,1103 L635,1112 L655,1120 L677,1127 L702,1133 L729,1138 L756,1143" stroke="#6c4420"/><path d="M510,998 L517,1008 L527,1022 L536,1036 L544,1048 L551,1060 L561,1072 L577,1084 L596,1097 L615,1108 L635,1117 L655,1125 L678,1132 L702,1139 L729,1144 L756,1148" stroke="#624324"/><path d="M511,1003 L517,1013 L527,1027 L537,1041 L544,1053 L551,1065 L562,1077 L577,1090 L596,1102 L616,1113 L635,1122 L656,1131 L678,1138 L703,1144 L729,1149 L756,1153" stroke="#584128"/><path d="M511,1008 L517,1018 L527,1032 L537,1046 L544,1058 L551,1070 L562,1082 L577,1095 L596,1107 L616,1118 L635,1128 L656,1136 L678,1143 L703,1149 L729,1154 L756,1159" stroke="#523f29"/><path d="M511,1013 L517,1023 L527,1037 L537,1051 L544,1063 L551,1075 L562,1087 L577,1100 L596,1112 L616,1123 L635,1133 L656,1141 L678,1148 L703,1155 L730,1160 L756,1164" stroke="#503d28"/><path d="M511,1018 L518,1028 L527,1042 L537,1056 L544,1068 L551,1080 L562,1092 L577,1105 L596,1117 L616,1129 L635,1138 L656,1146 L678,1154 L703,1160 L730,1165 L756,1169" stroke="#4d3c27"/><path d="M511,1023 L518,1033 L527,1047 L537,1061 L544,1073 L551,1085 L562,1097 L577,1110 L596,1122 L616,1134 L636,1143 L656,1152 L678,1159 L703,1165 L730,1170 L756,1175" stroke="#4a3a26"/><path d="M511,1028 L518,1038 L527,1052 L537,1066 L544,1079 L552,1090 L562,1102 L578,1115 L596,1128 L616,1139 L636,1149 L656,1157 L679,1164 L703,1171 L730,1176 L756,1180" stroke="#4c3b27"/><path d="M511,1033 L518,1043 L528,1057 L537,1071 L544,1084 L552,1096 L562,1108 L578,1120 L596,1133 L616,1144 L636,1154 L656,1162 L679,1170 L704,1176 L730,1181 L757,1185" stroke="#4d3c27"/><path d="M511,1038 L518,1048 L528,1062 L537,1076 L544,1089 L552,1101 L562,1113 L578,1125 L596,1138 L616,1149 L636,1159 L657,1168 L679,1175 L704,1181 L730,1186 L757,1191" stroke="#4f3d28"/><path d="M511,1043 L518,1053 L528,1067 L537,1081 L545,1094 L552,1106 L562,1118 L578,1130 L597,1143 L616,1154 L636,1164 L657,1173 L679,1180 L704,1186 L730,1192 L757,1196" stroke="#543f27"/><path d="M512,1048 L518,1058 L528,1072 L537,1086 L545,1099 L552,1111 L562,1123 L578,1135 L597,1148 L616,1160 L636,1169 L657,1178 L679,1186 L704,1192 L731,1197 L757,1201" stroke="#5e4024"/><path d="M512,1053 L518,1063 L528,1077 L537,1091 L545,1104 L552,1116 L562,1128 L578,1140 L597,1153 L616,1165 L636,1175 L657,1183 L680,1191 L704,1197 L731,1202 L757,1207" stroke="#684220"/><path d="M512,1058 L518,1068 L528,1082 L538,1096 L545,1109 L552,1121 L563,1133 L578,1146 L597,1158 L617,1170 L636,1180 L657,1189 L680,1196 L705,1202 L731,1208 L757,1212" stroke="#6f4621"/><path d="M512,1063 L519,1073 L528,1087 L538,1101 L545,1114 L552,1126 L563,1138 L578,1151 L597,1164 L617,1175 L637,1185 L657,1194 L680,1202 L705,1208 L731,1213 L757,1217" stroke="#754a25"/><path d="M512,1068 L519,1078 L528,1092 L538,1106 L545,1119 L552,1131 L563,1143 L578,1156 L597,1169 L617,1180 L637,1190 L658,1199 L680,1207 L705,1213 L731,1218 L757,1223" stroke="#7b4e29"/><path d="M512,1073 L519,1083 L528,1097 L538,1112 L545,1124 L552,1136 L563,1148 L578,1161 L597,1174 L617,1186 L637,1196 L658,1204 L680,1212 L705,1218 L731,1224 L758,1228" stroke="#7a4d2a"/><path d="M512,1078 L519,1088 L528,1102 L538,1117 L545,1129 L552,1141 L563,1153 L578,1166 L597,1179 L617,1191 L637,1201 L658,1210 L681,1217 L705,1224 L731,1229 L758,1233" stroke="#784b2a"/><path d="M512,1083 L519,1093 L529,1107 L538,1122 L545,1134 L553,1146 L563,1158 L578,1171 L597,1184 L617,1196 L637,1206 L658,1215 L681,1223 L705,1229 L732,1234 L758,1239" stroke="#764929"/><path d="M512,1088 L519,1098 L529,1112 L538,1127 L545,1139 L553,1151 L563,1163 L579,1176 L597,1189 L617,1201 L637,1211 L658,1220 L681,1228 L706,1234 L732,1240 L758,1244" stroke="#744726"/><path d="M512,1093 L519,1103 L529,1117 L538,1132 L545,1144 L553,1156 L563,1168 L579,1181 L597,1194 L617,1206 L637,1217 L658,1226 L681,1233 L706,1240 L732,1245 L758,1249" stroke="#724622"/><path d="M513,1098 L519,1108 L529,1122 L538,1137 L546,1149 L553,1161 L563,1173 L579,1186 L597,1200 L617,1212 L637,1222 L659,1231 L681,1239 L706,1245 L732,1250 L758,1255" stroke="#6f451f"/><path d="M513,1103 L519,1113 L529,1127 L538,1142 L546,1154 L553,1166 L563,1178 L579,1191 L598,1205 L617,1217 L637,1227 L659,1236 L681,1244 L706,1250 L732,1256 L758,1260" stroke="#654323"/><path d="M513,1108 L519,1118 L529,1132 L538,1147 L546,1159 L553,1171 L563,1183 L579,1197 L598,1210 L617,1222 L638,1232 L659,1241 L682,1249 L706,1256 L732,1261 L758,1265" stroke="#5b4127"/><path d="M513,1113 L520,1123 L529,1137 L539,1152 L546,1164 L553,1176 L564,1189 L579,1202 L598,1215 L618,1227 L638,1238 L659,1247 L682,1255 L706,1261 L732,1266 L759,1271" stroke="#533f2a"/><path d="M513,1118 L520,1128 L529,1142 L539,1157 L546,1169 L553,1181 L564,1194 L579,1207 L598,1220 L618,1232 L638,1243 L659,1252 L682,1260 L707,1266 L733,1272 L759,1276" stroke="#503e29"/><path d="M513,1123 L520,1133 L529,1147 L539,1162 L546,1174 L553,1186 L564,1199 L579,1212 L598,1225 L618,1237 L638,1248 L659,1257 L682,1265 L707,1272 L733,1277 L759,1281" stroke="#4e3c27"/><path d="M513,1128 L520,1138 L529,1152 L539,1167 L546,1179 L553,1191 L564,1204 L579,1217 L598,1230 L618,1243 L638,1253 L660,1263 L682,1271 L707,1277 L733,1282 L759,1287" stroke="#4b3b26"/><path d="M513,1133 L520,1143 L529,1157 L539,1172 L546,1184 L553,1196 L564,1209 L579,1222 L598,1236 L618,1248 L638,1258 L660,1268 L683,1276 L707,1282 L733,1288 L759,1292" stroke="#4b3b26"/><path d="M513,1138 L520,1148 L530,1162 L539,1177 L546,1189 L554,1201 L564,1214 L579,1227 L598,1241 L618,1253 L638,1264 L660,1273 L683,1281 L707,1288 L733,1293 L759,1297" stroke="#4d3c27"/><path d="M514,1143 L520,1153 L530,1167 L539,1182 L546,1194 L554,1206 L564,1219 L580,1232 L598,1246 L618,1258 L638,1269 L660,1278 L683,1287 L708,1293 L733,1298 L759,1303" stroke="#4f3d27"/><path d="M514,1148 L520,1158 L530,1172 L539,1187 L546,1199 L554,1211 L564,1224 L580,1237 L598,1251 L618,1263 L639,1274 L660,1284 L683,1292 L708,1298 L733,1304 L759,1308" stroke="#584026"/><path d="M514,1153 L520,1163 L530,1177 L539,1192 L547,1204 L554,1217 L564,1229 L580,1242 L598,1256 L618,1269 L639,1279 L660,1289 L683,1297 L708,1304 L734,1309 L760,1313" stroke="#644321"/><path d="M514,1158 L521,1168 L530,1182 L539,1197 L547,1209 L554,1222 L564,1234 L580,1248 L598,1261 L618,1274 L639,1285 L661,1294 L684,1302 L708,1309 L734,1314 L760,1319" stroke="#6e451e"/><path d="M514,1163 L521,1173 L530,1187 L539,1202 L547,1214 L554,1227 L564,1239 L580,1253 L599,1266 L618,1279 L639,1290 L661,1299 L684,1308 L708,1314 L734,1319 L760,1324" stroke="#73471d"/><path d="M514,1168 L521,1178 L530,1192 L540,1207 L547,1219 L554,1232 L565,1244 L580,1258 L599,1272 L619,1284 L639,1295 L661,1305 L684,1313 L708,1320 L734,1325 L760,1329" stroke="#75481d"/><path d="M514,1173 L521,1183 L530,1197 L540,1212 L547,1224 L554,1237 L565,1249 L580,1263 L599,1277 L619,1289 L639,1300 L661,1310 L684,1318 L709,1325 L734,1330 L760,1335" stroke="#75481c"/><path d="M514,1178 L521,1188 L530,1202 L540,1217 L547,1229 L554,1242 L565,1254 L580,1268 L599,1282 L619,1295 L639,1306 L661,1315 L684,1324 L709,1330 L734,1335 L760,1340" stroke="#75481c"/><path d="M514,1183 L521,1193 L530,1207 L540,1222 L547,1234 L554,1247 L565,1259 L580,1273 L599,1287 L619,1300 L639,1311 L661,1321 L684,1329 L709,1336 L735,1341 L760,1345" stroke="#75481c"/><path d="M515,1187 L521,1198 L531,1212 L540,1227 L547,1239 L554,1252 L565,1264 L580,1278 L599,1292 L619,1305 L640,1316 L662,1326 L685,1334 L709,1341 L735,1346 L760,1351" stroke="#75481c"/><path d="M515,1192 L521,1203 L531,1217 L540,1232 L547,1245 L554,1257 L565,1270 L580,1283 L599,1297 L619,1310 L640,1321 L662,1331 L685,1340 L709,1346 L735,1351 L761,1356" stroke="#75481c"/><path d="M515,1197 L521,1208 L531,1222 L540,1237 L547,1250 L555,1262 L565,1275 L580,1288 L599,1302 L619,1315 L640,1326 L662,1336 L685,1345 L709,1352 L735,1357 L761,1361" stroke="#75481c"/><path d="M515,1202 L521,1213 L531,1228 L540,1242 L547,1255 L555,1267 L565,1280 L581,1293 L599,1308 L619,1320 L640,1332 L662,1342 L685,1350 L710,1357 L735,1362 L761,1367" stroke="#75481c"/><path d="M515,1207 L522,1218 L531,1233 L540,1247 L548,1260 L555,1272 L565,1285 L581,1298 L599,1313 L619,1326 L640,1337 L662,1347 L685,1356 L710,1362 L735,1367 L761,1372" stroke="#75481c"/><path d="M515,1212 L522,1223 L531,1238 L540,1252 L548,1265 L555,1277 L565,1290 L581,1304 L599,1318 L619,1331 L640,1342 L662,1352 L686,1361 L710,1368 L735,1373 L761,1377" stroke="#75481c"/><path d="M515,1217 L522,1228 L531,1243 L540,1257 L548,1270 L555,1282 L565,1295 L581,1309 L599,1323 L619,1336 L640,1347 L663,1358 L686,1366 L710,1373 L736,1378 L761,1383" stroke="#71461b"/><path d="M515,1222 L522,1233 L531,1248 L540,1262 L548,1275 L555,1287 L565,1300 L581,1314 L600,1328 L619,1341 L640,1353 L663,1363 L686,1371 L710,1378 L736,1383 L761,1388" stroke="#6b421b"/><path d="M515,1227 L522,1238 L531,1253 L541,1267 L548,1280 L555,1292 L566,1305 L581,1319 L600,1333 L620,1346 L641,1358 L663,1368 L686,1377 L710,1384 L736,1389 L761,1393" stroke="#653e1a"/><path d="M516,1232 L522,1243 L531,1258 L541,1272 L548,1285 L555,1297 L566,1310 L581,1324 L600,1338 L620,1352 L641,1363 L663,1373 L686,1382 L711,1389 L736,1394 L762,1399" stroke="#5f3b19"/><path d="M516,1237 L522,1248 L531,1263 L541,1277 L548,1290 L555,1302 L566,1315 L581,1329 L600,1344 L620,1357 L641,1368 L663,1379 L687,1387 L711,1394 L736,1399 L762,1404" stroke="#593718"/><path d="M516,1242 L522,1253 L532,1268 L541,1282 L548,1295 L555,1307 L566,1320 L581,1334 L600,1349 L620,1362 L641,1374 L663,1384 L687,1393 L711,1400 L736,1405 L762,1409" stroke="#533417"/><path d="M516,1247 L522,1258 L532,1273 L541,1287 L548,1300 L555,1312 L566,1325 L581,1339 L600,1354 L620,1367 L641,1379 L664,1389 L687,1398 L711,1405 L736,1410 L762,1415" stroke="#4d3016"/><path d="M516,1252 L523,1263 L532,1278 L541,1292 L548,1305 L556,1317 L566,1330 L581,1344 L600,1359 L620,1372 L641,1384 L664,1394 L687,1403 L711,1410 L737,1415 L762,1420" stroke="#472c16"/><path d="M516,1257 L523,1268 L532,1283 L541,1297 L548,1310 L556,1322 L566,1335 L581,1349 L600,1364 L620,1377 L641,1389 L664,1400 L687,1409 L712,1416 L737,1421 L762,1425" stroke="#412915"/><path d="M743,626 L769,630 L794,635 L819,638 L844,640 L870,642 L899,642 L937,642 L978,640 L1020,636 L1058,630 L1097,621 L1136,612" stroke="#81511d"/><path d="M744,631 L769,636 L794,640 L820,643 L844,646 L870,647 L900,647 L937,647 L979,645 L1020,641 L1058,635 L1097,626 L1136,618" stroke="#82521d"/><path d="M744,637 L769,641 L794,645 L820,649 L845,651 L870,652 L900,653 L937,652 L979,650 L1020,647 L1058,640 L1097,632 L1136,623" stroke="#7d5a3a"/><path d="M744,642 L770,646 L794,651 L820,654 L845,656 L870,658 L900,658 L937,657 L979,656 L1020,652 L1059,645 L1097,637 L1136,628" stroke="#806248"/><path d="M744,647 L770,652 L795,656 L820,659 L845,662 L870,663 L900,663 L937,663 L979,661 L1020,657 L1059,651 L1097,642 L1136,633" stroke="#866951"/><path d="M744,653 L770,657 L795,661 L820,665 L845,667 L870,668 L900,669 L937,668 L979,666 L1020,663 L1059,656 L1097,647 L1136,639" stroke="#8c715a"/><path d="M744,658 L770,662 L795,667 L820,670 L845,672 L870,674 L900,674 L937,673 L979,672 L1020,668 L1059,661 L1097,653 L1136,644" stroke="#8c725a"/><path d="M744,663 L770,668 L795,672 L820,675 L845,677 L871,679 L900,679 L937,679 L979,677 L1020,673 L1059,667 L1097,658 L1136,649" stroke="#866b53"/><path d="M744,669 L770,673 L795,677 L821,681 L845,683 L871,684 L901,684 L938,684 L979,682 L1020,678 L1059,672 L1097,663 L1136,654" stroke="#7d6148"/><path d="M745,674 L770,678 L795,683 L821,686 L846,688 L871,689 L901,690 L938,689 L979,687 L1020,684 L1059,677 L1097,669 L1136,660" stroke="#4c3018"/><path d="M745,679 L770,684 L795,688 L821,691 L846,693 L871,695 L901,695 L938,694 L979,693 L1020,689 L1059,682 L1097,674 L1137,665" stroke="#4b2e15"/><path d="M745,685 L771,689 L796,693 L821,696 L846,699 L871,700 L901,700 L938,700 L979,698 L1020,694 L1059,688 L1097,679 L1137,670" stroke="#4b2e15"/><path d="M745,690 L771,694 L796,698 L821,702 L846,704 L871,705 L901,706 L938,705 L979,703 L1021,700 L1059,693 L1098,684 L1137,675" stroke="#4c2e14"/><path d="M745,695 L771,700 L796,704 L821,707 L846,709 L871,711 L901,711 L938,710 L980,709 L1021,705 L1059,698 L1098,690 L1137,681" stroke="#533215"/><path d="M745,701 L771,705 L796,709 L821,712 L846,715 L872,716 L901,716 L938,716 L980,714 L1021,710 L1059,703 L1098,695 L1137,686" stroke="#5a3716"/><path d="M745,706 L771,710 L796,714 L821,718 L846,720 L872,721 L901,722 L938,721 L980,719 L1021,715 L1059,709 L1098,700 L1137,691" stroke="#623c17"/><path d="M745,711 L771,716 L796,720 L822,723 L847,725 L872,727 L902,727 L939,726 L980,724 L1021,721 L1060,714 L1098,705 L1137,696" stroke="#694019"/><path d="M746,717 L771,721 L796,725 L822,728 L847,731 L872,732 L902,732 L939,731 L980,730 L1021,726 L1060,719 L1098,711 L1137,702" stroke="#6f441a"/><path d="M746,722 L771,726 L796,730 L822,734 L847,736 L872,737 L902,737 L939,737 L980,735 L1021,731 L1060,725 L1098,716 L1137,707" stroke="#75491b"/><path d="M746,727 L772,732 L797,736 L822,739 L847,741 L872,742 L902,743 L939,742 L980,740 L1021,737 L1060,730 L1098,721 L1137,712" stroke="#7b4d1c"/><path d="M746,733 L772,737 L797,741 L822,744 L847,746 L872,748 L902,748 L939,747 L980,746 L1021,742 L1060,735 L1098,726 L1138,717" stroke="#7e4f1c"/><path d="M746,738 L772,742 L797,746 L822,750 L847,752 L873,753 L902,753 L939,753 L980,751 L1021,747 L1060,740 L1098,732 L1138,723" stroke="#7f501c"/><path d="M746,743 L772,748 L797,752 L822,755 L847,757 L873,758 L902,759 L939,758 L980,756 L1021,752 L1060,746 L1098,737 L1138,728" stroke="#81511d"/><path d="M746,748 L772,753 L797,757 L823,760 L848,762 L873,764 L903,764 L939,763 L980,761 L1021,758 L1060,751 L1099,742 L1138,733" stroke="#82521d"/><path d="M746,754 L772,758 L797,762 L823,765 L848,768 L873,769 L903,769 L939,769 L981,767 L1021,763 L1060,756 L1099,748 L1138,738" stroke="#7e5938"/><path d="M747,759 L772,764 L797,768 L823,771 L848,773 L873,774 L903,775 L940,774 L981,772 L1021,768 L1060,762 L1099,753 L1138,744" stroke="#806147"/><path d="M747,764 L772,769 L798,773 L823,776 L848,778 L873,780 L903,780 L940,779 L981,777 L1022,774 L1060,767 L1099,758 L1138,749" stroke="#856850"/><path d="M747,770 L773,774 L798,778 L823,781 L848,784 L873,785 L903,785 L940,784 L981,783 L1022,779 L1060,772 L1099,763 L1138,754" stroke="#8b7058"/><path d="M747,775 L773,780 L798,784 L823,787 L848,789 L874,790 L903,790 L940,790 L981,788 L1022,784 L1060,777 L1099,769 L1138,759" stroke="#8d735c"/><path d="M747,780 L773,785 L798,789 L823,792 L848,794 L874,796 L903,796 L940,795 L981,793 L1022,789 L1060,783 L1099,774 L1138,764" stroke="#876c54"/><path d="M747,786 L773,790 L798,794 L824,797 L849,800 L874,801 L904,801 L940,800 L981,798 L1022,795 L1061,788 L1099,779 L1138,770" stroke="#81654c"/><path d="M747,791 L773,795 L798,800 L824,803 L849,805 L874,806 L904,806 L940,806 L981,804 L1022,800 L1061,793 L1099,784 L1139,775" stroke="#51351d"/><path d="M747,796 L773,801 L798,805 L824,808 L849,810 L874,811 L904,812 L940,811 L981,809 L1022,805 L1061,798 L1099,790 L1139,780" stroke="#4b2e15"/><path d="M748,802 L773,806 L798,810 L824,813 L849,815 L874,817 L904,817 L941,816 L981,814 L1022,810 L1061,804 L1099,795 L1139,785" stroke="#4b2e15"/><path d="M748,807 L773,811 L799,815 L824,819 L849,821 L875,822 L904,822 L941,821 L981,820 L1022,816 L1061,809 L1100,800 L1139,791" stroke="#4c2e14"/><path d="M748,812 L774,817 L799,821 L824,824 L849,826 L875,827 L904,827 L941,827 L982,825 L1022,821 L1061,814 L1100,805 L1139,796" stroke="#533215"/><path d="M748,818 L774,822 L799,826 L824,829 L849,831 L875,833 L904,833 L941,832 L982,830 L1022,826 L1061,820 L1100,811 L1139,801" stroke="#5b3716"/><path d="M748,823 L774,827 L799,831 L825,835 L850,837 L875,838 L905,838 L941,837 L982,836 L1022,832 L1061,825 L1100,816 L1139,806" stroke="#633c18"/><path d="M748,828 L774,833 L799,837 L825,840 L850,842 L875,843 L905,843 L941,843 L982,841 L1022,837 L1061,830 L1100,821 L1139,812" stroke="#6a4119"/><path d="M748,834 L774,838 L799,842 L825,845 L850,847 L875,849 L905,849 L941,848 L982,846 L1022,842 L1061,835 L1100,827 L1139,817" stroke="#70451a"/><path d="M748,839 L774,843 L799,847 L825,850 L850,853 L875,854 L905,854 L941,853 L982,851 L1022,847 L1061,841 L1100,832 L1139,822" stroke="#774a1b"/><path d="M749,844 L774,849 L800,853 L825,856 L850,858 L876,859 L905,859 L941,859 L982,857 L1023,853 L1061,846 L1100,837 L1140,827" stroke="#7d4e1c"/><path d="M749,850 L774,854 L800,858 L825,861 L850,863 L876,864 L905,865 L942,864 L982,862 L1023,858 L1061,851 L1100,842 L1140,833" stroke="#7e4f1c"/><path d="M749,855 L775,859 L800,863 L825,866 L850,868 L876,870 L905,870 L942,869 L982,867 L1023,863 L1062,856 L1100,848 L1140,838" stroke="#80501d"/><path d="M749,860 L775,865 L800,869 L826,872 L851,874 L876,875 L906,875 L942,874 L982,873 L1023,869 L1062,862 L1100,853 L1140,843" stroke="#81511d"/><path d="M749,866 L775,870 L800,874 L826,877 L851,879 L876,880 L906,880 L942,880 L982,878 L1023,874 L1062,867 L1100,858 L1140,848" stroke="#805526"/><path d="M749,871 L775,875 L800,879 L826,882 L851,884 L876,886 L906,886 L942,885 L982,883 L1023,879 L1062,872 L1101,863 L1140,854" stroke="#7c5c42"/><path d="M749,876 L775,881 L800,885 L826,888 L851,890 L876,891 L906,891 L942,890 L983,888 L1023,884 L1062,878 L1101,869 L1140,859" stroke="#82644b"/><path d="M749,882 L775,886 L800,890 L826,893 L851,895 L877,896 L906,896 L942,896 L983,894 L1023,890 L1062,883 L1101,874 L1140,864" stroke="#886c54"/><path d="M750,887 L775,891 L801,895 L826,898 L851,900 L877,902 L906,902 L942,901 L983,899 L1023,895 L1062,888 L1101,879 L1140,869" stroke="#8e745c"/><path d="M750,892 L775,897 L801,901 L826,904 L851,906 L877,907 L906,907 L943,906 L983,904 L1023,900 L1062,893 L1101,884 L1140,875" stroke="#8a7058"/><path d="M750,898 L776,902 L801,906 L826,909 L852,911 L877,912 L906,912 L943,911 L983,910 L1023,906 L1062,899 L1101,890 L1141,880" stroke="#856951"/><path d="M750,903 L776,907 L801,911 L827,914 L852,916 L877,917 L907,918 L943,917 L983,915 L1023,911 L1062,904 L1101,895 L1141,885" stroke="#71553c"/><path d="M750,908 L776,913 L801,916 L827,919 L852,922 L877,923 L907,923 L943,922 L983,920 L1023,916 L1062,909 L1101,900 L1141,890" stroke="#4a2e16"/><path d="M750,914 L776,918 L801,922 L827,925 L852,927 L877,928 L907,928 L943,927 L983,925 L1023,921 L1062,915 L1101,905 L1141,896" stroke="#4b2e15"/><path d="M750,919 L776,923 L801,927 L827,930 L852,932 L878,933 L907,933 L943,933 L983,931 L1024,927 L1062,920 L1101,911 L1141,901" stroke="#4b2e15"/><path d="M750,924 L776,929 L802,932 L827,935 L852,937 L878,939 L907,939 L943,938 L983,936 L1024,932 L1062,925 L1101,916 L1141,906" stroke="#4c2e14"/><path d="M751,930 L776,934 L802,938 L827,941 L852,943 L878,944 L907,944 L943,943 L983,941 L1024,937 L1063,930 L1102,921 L1141,911" stroke="#543315"/><path d="M751,935 L776,939 L802,943 L827,946 L853,948 L878,949 L907,949 L943,949 L984,947 L1024,943 L1063,936 L1102,927 L1141,917" stroke="#5b3816"/><path d="M751,940 L777,945 L802,948 L828,951 L853,953 L878,955 L908,955 L944,954 L984,952 L1024,948 L1063,941 L1102,932 L1141,922" stroke="#633c18"/><path d="M751,946 L777,950 L802,954 L828,957 L853,959 L878,960 L908,960 L944,959 L984,957 L1024,953 L1063,946 L1102,937 L1141,927" stroke="#6a4119"/><path d="M751,951 L777,955 L802,959 L828,962 L853,964 L878,965 L908,965 L944,964 L984,962 L1024,958 L1063,951 L1102,942 L1142,932" stroke="#70451a"/><path d="M751,956 L777,961 L802,964 L828,967 L853,969 L879,970 L908,970 L944,970 L984,968 L1024,964 L1063,957 L1102,948 L1142,938" stroke="#76491b"/><path d="M751,962 L777,966 L802,970 L828,973 L853,975 L879,976 L908,976 L944,975 L984,973 L1024,969 L1063,962 L1102,953 L1142,943" stroke="#7c4d1c"/><path d="M751,967 L777,971 L803,975 L828,978 L853,980 L879,981 L908,981 L944,980 L984,978 L1024,974 L1063,967 L1102,958 L1142,948" stroke="#7e4f1c"/><path d="M752,972 L777,977 L803,980 L828,983 L854,985 L879,986 L908,986 L944,986 L984,984 L1024,980 L1063,973 L1102,963 L1142,953" stroke="#7f501c"/><path d="M752,978 L777,982 L803,986 L829,989 L854,991 L879,992 L909,992 L944,991 L984,989 L1024,985 L1063,978 L1102,969 L1142,959" stroke="#81511d"/><path d="M752,983 L778,987 L803,991 L829,994 L854,996 L879,997 L909,997 L945,996 L984,994 L1024,990 L1063,983 L1102,974 L1142,964" stroke="#82521d"/><path d="M752,988 L778,992 L803,996 L829,999 L854,1001 L879,1002 L909,1002 L945,1001 L984,999 L1024,995 L1063,988 L1103,979 L1142,969" stroke="#7e5936"/><path d="M752,994 L778,998 L803,1002 L829,1004 L854,1006 L880,1008 L909,1008 L945,1007 L984,1005 L1024,1001 L1063,994 L1103,984 L1142,974" stroke="#7f6047"/><path d="M752,999 L778,1003 L803,1007 L829,1010 L854,1012 L880,1013 L909,1013 L945,1012 L985,1010 L1025,1006 L1063,999 L1103,990 L1142,980" stroke="#85684f"/><path d="M752,1004 L778,1008 L803,1012 L829,1015 L854,1017 L880,1018 L909,1018 L945,1017 L985,1015 L1025,1011 L1064,1004 L1103,995 L1142,985" stroke="#8a6f57"/><path d="M752,1010 L778,1014 L804,1018 L829,1020 L855,1022 L880,1023 L909,1023 L945,1023 L985,1021 L1025,1017 L1064,1009 L1103,1000 L1143,990" stroke="#8e745d"/><path d="M753,1015 L778,1019 L804,1023 L830,1026 L855,1028 L880,1029 L910,1029 L945,1028 L985,1026 L1025,1022 L1064,1015 L1103,1006 L1143,995" stroke="#886d55"/><path d="M753,1020 L778,1024 L804,1028 L830,1031 L855,1033 L880,1034 L910,1034 L945,1033 L985,1031 L1025,1027 L1064,1020 L1103,1011 L1143,1001" stroke="#82664e"/><path d="M753,1026 L779,1030 L804,1033 L830,1036 L855,1038 L880,1039 L910,1039 L945,1038 L985,1037 L1025,1032 L1064,1025 L1103,1016 L1143,1006" stroke="#593d24"/><path d="M753,1031 L779,1035 L804,1039 L830,1042 L855,1044 L881,1045 L910,1045 L946,1044 L985,1042 L1025,1038 L1064,1031 L1103,1021 L1143,1011" stroke="#4a2e16"/><path d="M753,1036 L779,1040 L804,1044 L830,1047 L855,1049 L881,1050 L910,1050 L946,1049 L985,1047 L1025,1043 L1064,1036 L1103,1027 L1143,1016" stroke="#4b2e15"/><path d="M753,1042 L779,1046 L804,1049 L830,1052 L855,1054 L881,1055 L910,1055 L946,1054 L985,1052 L1025,1048 L1064,1041 L1103,1032 L1143,1022" stroke="#4c2e14"/><path d="M753,1047 L779,1051 L805,1055 L830,1058 L856,1060 L881,1061 L910,1061 L946,1060 L985,1058 L1025,1054 L1064,1046 L1103,1037 L1143,1027" stroke="#513115"/><path d="M753,1052 L779,1056 L805,1060 L830,1063 L856,1065 L881,1066 L910,1066 L946,1065 L985,1063 L1025,1059 L1064,1052 L1104,1042 L1143,1032" stroke="#593616"/><path d="M754,1058 L779,1062 L805,1065 L831,1068 L856,1070 L881,1071 L911,1071 L946,1070 L986,1068 L1025,1064 L1064,1057 L1104,1048 L1143,1037" stroke="#613b17"/><path d="M754,1063 L779,1067 L805,1071 L831,1074 L856,1075 L881,1076 L911,1076 L946,1076 L986,1074 L1025,1069 L1064,1062 L1104,1053 L1144,1043" stroke="#694018"/><path d="M754,1068 L780,1072 L805,1076 L831,1079 L856,1081 L882,1082 L911,1082 L946,1081 L986,1079 L1025,1075 L1064,1068 L1104,1058 L1144,1048" stroke="#6f441a"/><path d="M754,1074 L780,1078 L805,1081 L831,1084 L856,1086 L882,1087 L911,1087 L947,1086 L986,1084 L1026,1080 L1065,1073 L1104,1063 L1144,1053" stroke="#75491b"/><path d="M754,1079 L780,1083 L805,1087 L831,1089 L856,1091 L882,1092 L911,1092 L947,1091 L986,1089 L1026,1085 L1065,1078 L1104,1069 L1144,1058" stroke="#7b4d1c"/><path d="M754,1084 L780,1088 L805,1092 L831,1095 L857,1097 L882,1098 L911,1098 L947,1097 L986,1095 L1026,1090 L1065,1083 L1104,1074 L1144,1064" stroke="#7e4f1c"/><path d="M754,1090 L780,1094 L806,1097 L831,1100 L857,1102 L882,1103 L911,1103 L947,1102 L986,1100 L1026,1096 L1065,1089 L1104,1079 L1144,1069" stroke="#7f501c"/><path d="M754,1095 L780,1099 L806,1103 L832,1105 L857,1107 L882,1108 L912,1108 L947,1107 L986,1105 L1026,1101 L1065,1094 L1104,1085 L1144,1074" stroke="#81511d"/><path d="M755,1100 L780,1104 L806,1108 L832,1111 L857,1113 L882,1114 L912,1114 L947,1113 L986,1111 L1026,1106 L1065,1099 L1104,1090 L1144,1079" stroke="#82531f"/><path d="M755,1105 L780,1110 L806,1113 L832,1116 L857,1118 L883,1119 L912,1119 L947,1118 L986,1116 L1026,1112 L1065,1104 L1104,1095 L1144,1085" stroke="#7d5a3c"/><path d="M755,1111 L781,1115 L806,1119 L832,1121 L857,1123 L883,1124 L912,1124 L947,1123 L986,1121 L1026,1117 L1065,1110 L1105,1100 L1144,1090" stroke="#816249"/><path d="M755,1116 L781,1120 L806,1124 L832,1127 L857,1128 L883,1130 L912,1129 L947,1128 L987,1126 L1026,1122 L1065,1115 L1105,1106 L1145,1095" stroke="#866a51"/><path d="M755,1121 L781,1126 L806,1129 L832,1132 L858,1134 L883,1135 L912,1135 L948,1134 L987,1132 L1026,1127 L1065,1120 L1105,1111 L1145,1100" stroke="#8c715a"/><path d="M755,1127 L781,1131 L807,1135 L832,1137 L858,1139 L883,1140 L912,1140 L948,1139 L987,1137 L1026,1133 L1065,1126 L1105,1116 L1145,1106" stroke="#8c715a"/><path d="M755,1132 L781,1136 L807,1140 L833,1143 L858,1144 L883,1145 L913,1145 L948,1144 L987,1142 L1026,1138 L1065,1131 L1105,1121 L1145,1111" stroke="#866a52"/><path d="M755,1137 L781,1142 L807,1145 L833,1148 L858,1150 L883,1151 L913,1151 L948,1150 L987,1148 L1026,1143 L1065,1136 L1105,1127 L1145,1116" stroke="#775b42"/><path d="M756,1143 L781,1147 L807,1150 L833,1153 L858,1155 L884,1156 L913,1156 L948,1155 L987,1153 L1026,1149 L1065,1141 L1105,1132 L1145,1121" stroke="#4a2e16"/><path d="M756,1148 L781,1152 L807,1156 L833,1158 L858,1160 L884,1161 L913,1161 L948,1160 L987,1158 L1026,1154 L1066,1147 L1105,1137 L1145,1127" stroke="#4b2e15"/><path d="M756,1153 L782,1158 L807,1161 L833,1164 L858,1166 L884,1167 L913,1166 L948,1166 L987,1163 L1027,1159 L1066,1152 L1105,1142 L1145,1132" stroke="#4b2e15"/><path d="M756,1159 L782,1163 L807,1166 L833,1169 L858,1171 L884,1172 L913,1172 L948,1171 L987,1169 L1027,1164 L1066,1157 L1105,1148 L1145,1137" stroke="#4d2f14"/><path d="M756,1164 L782,1168 L807,1172 L833,1174 L859,1176 L884,1177 L913,1177 L949,1176 L987,1174 L1027,1170 L1066,1162 L1105,1153 L1145,1142" stroke="#553415"/><path d="M756,1169 L782,1174 L808,1177 L834,1180 L859,1182 L884,1183 L914,1182 L949,1181 L987,1179 L1027,1175 L1066,1168 L1106,1158 L1145,1148" stroke="#5e3917"/><path d="M756,1175 L782,1179 L808,1182 L834,1185 L859,1187 L884,1188 L914,1188 L949,1187 L987,1185 L1027,1180 L1066,1173 L1106,1164 L1146,1153" stroke="#663e18"/><path d="M756,1180 L782,1184 L808,1188 L834,1190 L859,1192 L885,1193 L914,1193 L949,1192 L988,1190 L1027,1186 L1066,1178 L1106,1169 L1146,1158" stroke="#6c4219"/><path d="M757,1185 L782,1190 L808,1193 L834,1196 L859,1197 L885,1198 L914,1198 L949,1197 L988,1195 L1027,1191 L1066,1184 L1106,1174 L1146,1163" stroke="#72471a"/><path d="M757,1191 L782,1195 L808,1198 L834,1201 L859,1203 L885,1204 L914,1204 L949,1203 L988,1200 L1027,1196 L1066,1189 L1106,1179 L1146,1169" stroke="#794b1b"/><path d="M757,1196 L783,1200 L808,1204 L834,1206 L859,1208 L885,1209 L914,1209 L949,1208 L988,1206 L1027,1201 L1066,1194 L1106,1185 L1146,1174" stroke="#7d4e1c"/><path d="M757,1201 L783,1205 L808,1209 L834,1212 L860,1213 L885,1214 L914,1214 L949,1213 L988,1211 L1027,1207 L1066,1199 L1106,1190 L1146,1179" stroke="#7f4f1c"/><path d="M757,1207 L783,1211 L809,1214 L835,1217 L860,1219 L885,1220 L915,1219 L949,1218 L988,1216 L1027,1212 L1066,1205 L1106,1195 L1146,1184" stroke="#80511d"/><path d="M757,1212 L783,1216 L809,1220 L835,1222 L860,1224 L885,1225 L915,1225 L950,1224 L988,1222 L1027,1217 L1066,1210 L1106,1200 L1146,1190" stroke="#82521d"/><path d="M757,1217 L783,1221 L809,1225 L835,1228 L860,1229 L886,1230 L915,1230 L950,1229 L988,1227 L1027,1223 L1067,1215 L1106,1206 L1146,1195" stroke="#7f5832"/><path d="M757,1223 L783,1227 L809,1230 L835,1233 L860,1235 L886,1236 L915,1235 L950,1234 L988,1232 L1027,1228 L1067,1221 L1106,1211 L1146,1200" stroke="#7f6046"/><path d="M758,1228 L783,1232 L809,1236 L835,1238 L860,1240 L886,1241 L915,1241 L950,1240 L988,1238 L1028,1233 L1067,1226 L1106,1216 L1147,1205" stroke="#85674f"/><path d="M758,1233 L783,1237 L809,1241 L835,1243 L860,1245 L886,1246 L915,1246 L950,1245 L988,1243 L1028,1238 L1067,1231 L1107,1221 L1147,1211" stroke="#8b6f58"/><path d="M758,1239 L784,1243 L809,1246 L835,1249 L861,1251 L886,1251 L915,1251 L950,1250 L989,1248 L1028,1244 L1067,1236 L1107,1227 L1147,1216" stroke="#8d735c"/><path d="M758,1244 L784,1248 L809,1252 L835,1254 L861,1256 L886,1257 L915,1257 L950,1256 L989,1253 L1028,1249 L1067,1242 L1107,1232 L1147,1221" stroke="#876c54"/><path d="M758,1249 L784,1253 L810,1257 L836,1259 L861,1261 L886,1262 L916,1262 L950,1261 L989,1259 L1028,1254 L1067,1247 L1107,1237 L1147,1226" stroke="#81664d"/><path d="M758,1255 L784,1259 L810,1262 L836,1265 L861,1266 L887,1267 L916,1267 L950,1266 L989,1264 L1028,1260 L1067,1252 L1107,1242 L1147,1232" stroke="#51351d"/><path d="M758,1260 L784,1264 L810,1267 L836,1270 L861,1272 L887,1273 L916,1272 L951,1271 L989,1269 L1028,1265 L1067,1257 L1107,1248 L1147,1237" stroke="#4b2e15"/><path d="M758,1265 L784,1269 L810,1273 L836,1275 L861,1277 L887,1278 L916,1278 L951,1277 L989,1275 L1028,1270 L1067,1263 L1107,1253 L1147,1242" stroke="#4b2e15"/><path d="M759,1271 L784,1275 L810,1278 L836,1281 L861,1282 L887,1283 L916,1283 L951,1282 L989,1280 L1028,1275 L1067,1268 L1107,1258 L1147,1247" stroke="#4c2e14"/><path d="M759,1276 L784,1280 L810,1283 L836,1286 L862,1288 L887,1289 L916,1288 L951,1287 L989,1285 L1028,1281 L1067,1273 L1107,1264 L1147,1253" stroke="#533215"/><path d="M759,1281 L785,1285 L810,1289 L836,1291 L862,1293 L887,1294 L916,1294 L951,1293 L989,1290 L1028,1286 L1067,1279 L1107,1269 L1148,1258" stroke="#5b3716"/><path d="M759,1287 L785,1291 L810,1294 L837,1297 L862,1298 L887,1299 L917,1299 L951,1298 L989,1296 L1028,1291 L1067,1284 L1107,1274 L1148,1263" stroke="#633c18"/><path d="M759,1292 L785,1296 L811,1299 L837,1302 L862,1304 L888,1304 L917,1304 L951,1303 L989,1301 L1028,1297 L1068,1289 L1108,1279 L1148,1268" stroke="#6a4119"/><path d="M759,1297 L785,1301 L811,1305 L837,1307 L862,1309 L888,1310 L917,1310 L951,1308 L990,1306 L1028,1302 L1068,1294 L1108,1285 L1148,1274" stroke="#71451a"/><path d="M759,1303 L785,1307 L811,1310 L837,1313 L862,1314 L888,1315 L917,1315 L952,1314 L990,1312 L1029,1307 L1068,1300 L1108,1290 L1148,1279" stroke="#774a1b"/><path d="M759,1308 L785,1312 L811,1315 L837,1318 L862,1320 L888,1320 L917,1320 L952,1319 L990,1317 L1029,1312 L1068,1305 L1108,1295 L1148,1284" stroke="#7d4e1c"/><path d="M760,1313 L785,1317 L811,1321 L837,1323 L863,1325 L888,1326 L917,1325 L952,1324 L990,1322 L1029,1318 L1068,1310 L1108,1300 L1148,1289" stroke="#7d4e1d"/><path d="M760,1319 L785,1323 L811,1326 L837,1328 L863,1330 L888,1331 L917,1331 L952,1330 L990,1327 L1029,1323 L1068,1315 L1108,1306 L1148,1295" stroke="#7d4e1d"/><path d="M760,1324 L786,1328 L811,1331 L838,1334 L863,1335 L889,1336 L918,1336 L952,1335 L990,1333 L1029,1328 L1068,1321 L1108,1311 L1148,1300" stroke="#7c4e1e"/><path d="M760,1329 L786,1333 L812,1337 L838,1339 L863,1341 L889,1342 L918,1341 L952,1340 L990,1338 L1029,1334 L1068,1326 L1108,1316 L1148,1305" stroke="#7b4d1f"/><path d="M760,1335 L786,1339 L812,1342 L838,1344 L863,1346 L889,1347 L918,1347 L952,1346 L990,1343 L1029,1339 L1068,1331 L1108,1321 L1148,1310" stroke="#7a4c1e"/><path d="M760,1340 L786,1344 L812,1347 L838,1350 L863,1351 L889,1352 L918,1352 L952,1351 L990,1349 L1029,1344 L1068,1337 L1108,1327 L1149,1316" stroke="#7a4c1e"/><path d="M760,1345 L786,1349 L812,1353 L838,1355 L863,1357 L889,1357 L918,1357 L952,1356 L990,1354 L1029,1349 L1068,1342 L1108,1332 L1149,1321" stroke="#7a4c1e"/><path d="M760,1351 L786,1355 L812,1358 L838,1360 L864,1362 L889,1363 L918,1362 L953,1361 L990,1359 L1029,1355 L1068,1347 L1109,1337 L1149,1326" stroke="#7a4c1e"/><path d="M761,1356 L786,1360 L812,1363 L838,1366 L864,1367 L889,1368 L918,1368 L953,1367 L990,1364 L1029,1360 L1068,1352 L1109,1343 L1149,1331" stroke="#7a4c1e"/><path d="M761,1361 L786,1365 L812,1369 L839,1371 L864,1373 L890,1373 L919,1373 L953,1372 L991,1370 L1029,1365 L1068,1358 L1109,1348 L1149,1337" stroke="#7a4c1e"/><path d="M761,1367 L787,1371 L812,1374 L839,1376 L864,1378 L890,1379 L919,1378 L953,1377 L991,1375 L1029,1371 L1069,1363 L1109,1353 L1149,1342" stroke="#7a4c1e"/><path d="M761,1372 L787,1376 L813,1379 L839,1382 L864,1383 L890,1384 L919,1384 L953,1383 L991,1380 L1029,1376 L1069,1368 L1109,1358 L1149,1347" stroke="#7a4c1e"/><path d="M761,1377 L787,1381 L813,1384 L839,1387 L864,1388 L890,1389 L919,1389 L953,1388 L991,1386 L1029,1381 L1069,1373 L1109,1364 L1149,1352" stroke="#7a4c1e"/><path d="M761,1383 L787,1387 L813,1390 L839,1392 L864,1394 L890,1395 L919,1394 L953,1393 L991,1391 L1030,1386 L1069,1379 L1109,1369 L1149,1358" stroke="#764a1d"/><path d="M761,1388 L787,1392 L813,1395 L839,1397 L865,1399 L890,1400 L919,1400 L953,1398 L991,1396 L1030,1392 L1069,1384 L1109,1374 L1149,1363" stroke="#70461c"/><path d="M761,1393 L787,1397 L813,1400 L839,1403 L865,1404 L890,1405 L919,1405 L954,1404 L991,1401 L1030,1397 L1069,1389 L1109,1379 L1150,1368" stroke="#6b421b"/><path d="M762,1399 L787,1403 L813,1406 L840,1408 L865,1410 L891,1410 L920,1410 L954,1409 L991,1407 L1030,1402 L1069,1395 L1109,1385 L1150,1373" stroke="#653e1a"/><path d="M762,1404 L787,1408 L813,1411 L840,1413 L865,1415 L891,1416 L920,1415 L954,1414 L991,1412 L1030,1407 L1069,1400 L1109,1390 L1150,1379" stroke="#5f3b19"/><path d="M762,1409 L788,1413 L814,1416 L840,1419 L865,1420 L891,1421 L920,1421 L954,1420 L991,1417 L1030,1413 L1069,1405 L1109,1395 L1150,1384" stroke="#593718"/><path d="M762,1415 L788,1418 L814,1422 L840,1424 L865,1426 L891,1426 L920,1426 L954,1425 L991,1423 L1030,1418 L1069,1410 L1110,1400 L1150,1389" stroke="#533317"/><path d="M762,1420 L788,1424 L814,1427 L840,1429 L865,1431 L891,1432 L920,1431 L954,1430 L992,1428 L1030,1423 L1069,1416 L1110,1406 L1150,1394" stroke="#4d2f16"/><path d="M762,1425 L788,1429 L814,1432 L840,1435 L866,1436 L891,1437 L920,1437 L954,1435 L992,1433 L1030,1429 L1069,1421 L1110,1411 L1150,1400" stroke="#482c14"/><path d="M1136,612 L1176,603 L1218,594 L1260,585 L1300,577 L1340,568 L1380,559 L1426,549 L1472,538 L1504,531" stroke="#402917"/><path d="M1136,618 L1177,609 L1218,599 L1260,590 L1300,582 L1340,573 L1380,564 L1426,554 L1472,543 L1504,536" stroke="#4c3525"/><path d="M1136,623 L1177,614 L1218,605 L1260,596 L1300,587 L1340,578 L1380,569 L1426,559 L1472,548 L1504,541" stroke="#584030"/><path d="M1136,628 L1177,619 L1219,610 L1260,601 L1300,592 L1340,583 L1380,574 L1426,564 L1472,553 L1504,546" stroke="#594131"/><path d="M1136,633 L1177,624 L1219,615 L1260,606 L1300,597 L1340,588 L1380,579 L1426,569 L1472,558 L1504,551" stroke="#5a4232"/><path d="M1136,639 L1177,630 L1219,620 L1260,611 L1300,602 L1340,593 L1380,584 L1426,574 L1472,563 L1504,556" stroke="#5b4333"/><path d="M1136,644 L1177,635 L1219,625 L1260,616 L1300,607 L1340,598 L1380,589 L1426,579 L1472,568 L1504,561" stroke="#5b4333"/><path d="M1136,649 L1177,640 L1219,631 L1260,621 L1300,612 L1340,603 L1380,594 L1426,584 L1472,573 L1504,566" stroke="#5a4232"/><path d="M1136,654 L1177,645 L1219,636 L1260,626 L1300,617 L1340,609 L1380,599 L1426,589 L1472,578 L1504,571" stroke="#594131"/><path d="M1136,660 L1177,650 L1219,641 L1260,632 L1300,623 L1340,614 L1380,604 L1426,594 L1472,583 L1504,576" stroke="#573f2f"/><path d="M1137,665 L1177,656 L1219,646 L1260,637 L1300,628 L1340,619 L1380,610 L1426,599 L1472,588 L1504,581" stroke="#553d2d"/><path d="M1137,670 L1178,661 L1219,651 L1260,642 L1301,633 L1340,624 L1380,615 L1426,604 L1472,593 L1504,586" stroke="#412c1c"/><path d="M1137,675 L1178,666 L1219,657 L1261,647 L1301,638 L1340,629 L1380,620 L1426,609 L1472,598 L1504,590" stroke="#492e17"/><path d="M1137,681 L1178,671 L1219,662 L1261,652 L1301,643 L1340,634 L1380,625 L1426,614 L1472,603 L1504,595" stroke="#653e1c"/><path d="M1137,686 L1178,677 L1219,667 L1261,657 L1301,648 L1340,639 L1380,630 L1426,619 L1472,608 L1504,600" stroke="#67411d"/><path d="M1137,691 L1178,682 L1220,672 L1261,662 L1301,653 L1340,644 L1380,635 L1426,624 L1472,613 L1504,605" stroke="#6a431d"/><path d="M1137,696 L1178,687 L1220,677 L1261,668 L1301,658 L1340,649 L1380,640 L1426,629 L1472,618 L1504,610" stroke="#6c451e"/><path d="M1137,702 L1178,692 L1220,682 L1261,673 L1301,663 L1340,654 L1380,645 L1426,634 L1472,623 L1504,615" stroke="#6e461e"/><path d="M1137,707 L1178,697 L1220,688 L1261,678 L1301,669 L1340,659 L1380,650 L1426,639 L1472,628 L1504,620" stroke="#6d451d"/><path d="M1137,712 L1178,703 L1220,693 L1261,683 L1301,674 L1341,664 L1381,655 L1426,644 L1472,633 L1504,625" stroke="#6c441d"/><path d="M1138,717 L1178,708 L1220,698 L1261,688 L1301,679 L1341,669 L1381,660 L1426,649 L1472,638 L1504,630" stroke="#6b431c"/><path d="M1138,723 L1178,713 L1220,703 L1261,693 L1301,684 L1341,674 L1381,665 L1426,654 L1472,643 L1504,635" stroke="#5e3b1a"/><path d="M1138,728 L1179,718 L1220,708 L1261,698 L1301,689 L1341,679 L1381,670 L1426,659 L1472,648 L1504,640" stroke="#402917"/><path d="M1138,733 L1179,724 L1220,714 L1261,704 L1301,694 L1341,685 L1381,675 L1426,664 L1472,653 L1504,645" stroke="#4b3424"/><path d="M1138,738 L1179,729 L1220,719 L1261,709 L1301,699 L1341,690 L1381,680 L1426,669 L1472,658 L1504,650" stroke="#584030"/><path d="M1138,744 L1179,734 L1220,724 L1261,714 L1301,704 L1341,695 L1381,685 L1426,674 L1472,663 L1504,655" stroke="#594131"/><path d="M1138,749 L1179,739 L1220,729 L1262,719 L1301,709 L1341,700 L1381,690 L1426,679 L1472,668 L1504,660" stroke="#5a4232"/><path d="M1138,754 L1179,744 L1221,734 L1262,724 L1301,714 L1341,705 L1381,695 L1426,684 L1472,673 L1504,665" stroke="#5b4333"/><path d="M1138,759 L1179,750 L1221,739 L1262,729 L1302,720 L1341,710 L1381,700 L1426,689 L1472,678 L1504,670" stroke="#5c4434"/><path d="M1138,764 L1179,755 L1221,745 L1262,735 L1302,725 L1341,715 L1381,705 L1426,694 L1472,682 L1504,675" stroke="#5a4232"/><path d="M1138,770 L1179,760 L1221,750 L1262,740 L1302,730 L1341,720 L1381,710 L1426,699 L1472,687 L1504,680" stroke="#594131"/><path d="M1139,775 L1179,765 L1221,755 L1262,745 L1302,735 L1341,725 L1381,715 L1426,704 L1472,692 L1504,684" stroke="#573f2f"/><path d="M1139,780 L1179,771 L1221,760 L1262,750 L1302,740 L1341,730 L1381,720 L1426,709 L1472,697 L1504,689" stroke="#563e2e"/><path d="M1139,785 L1180,776 L1221,765 L1262,755 L1302,745 L1341,735 L1381,725 L1426,714 L1472,702 L1504,694" stroke="#422d1d"/><path d="M1139,791 L1180,781 L1221,771 L1262,760 L1302,750 L1341,740 L1381,730 L1426,719 L1472,707 L1504,699" stroke="#492e17"/><path d="M1139,796 L1180,786 L1221,776 L1262,765 L1302,755 L1341,745 L1381,735 L1426,724 L1472,712 L1504,704" stroke="#653e1c"/><path d="M1139,801 L1180,791 L1221,781 L1262,771 L1302,760 L1341,750 L1381,740 L1426,729 L1472,717 L1504,709" stroke="#67411d"/><path d="M1139,806 L1180,797 L1221,786 L1262,776 L1302,766 L1341,755 L1381,745 L1426,734 L1472,722 L1504,714" stroke="#6a431d"/><path d="M1139,812 L1180,802 L1221,791 L1262,781 L1302,771 L1341,760 L1381,750 L1426,739 L1472,727 L1504,719" stroke="#6d451e"/><path d="M1139,817 L1180,807 L1221,797 L1262,786 L1302,776 L1341,766 L1381,755 L1426,744 L1472,732 L1504,724" stroke="#6d451e"/><path d="M1139,822 L1180,812 L1222,802 L1262,791 L1302,781 L1342,771 L1381,760 L1426,749 L1472,737 L1504,729" stroke="#6c441d"/><path d="M1140,827 L1180,818 L1222,807 L1263,796 L1302,786 L1342,776 L1381,765 L1426,754 L1472,742 L1504,734" stroke="#6b431d"/><path d="M1140,833 L1180,823 L1222,812 L1263,801 L1302,791 L1342,781 L1381,770 L1426,759 L1472,747 L1504,739" stroke="#6a421c"/><path d="M1140,838 L1180,828 L1222,817 L1263,807 L1302,796 L1342,786 L1381,775 L1426,764 L1472,752 L1504,744" stroke="#553519"/><path d="M1140,843 L1181,833 L1222,822 L1263,812 L1302,801 L1342,791 L1381,780 L1426,769 L1472,757 L1504,749" stroke="#402919"/><path d="M1140,848 L1181,838 L1222,828 L1263,817 L1303,806 L1342,796 L1381,785 L1427,774 L1472,762 L1504,754" stroke="#523b2b"/><path d="M1140,854 L1181,844 L1222,833 L1263,822 L1303,812 L1342,801 L1381,790 L1427,779 L1472,767 L1504,759" stroke="#594131"/><path d="M1140,859 L1181,849 L1222,838 L1263,827 L1303,817 L1342,806 L1381,796 L1427,784 L1472,772 L1504,764" stroke="#5a4232"/><path d="M1140,864 L1181,854 L1222,843 L1263,832 L1303,822 L1342,811 L1382,801 L1427,789 L1472,777 L1504,769" stroke="#5b4333"/><path d="M1140,869 L1181,859 L1222,848 L1263,837 L1303,827 L1342,816 L1382,806 L1427,794 L1472,782 L1504,773" stroke="#5c4434"/><path d="M1140,875 L1181,864 L1222,854 L1263,843 L1303,832 L1342,821 L1382,811 L1427,799 L1472,787 L1504,778" stroke="#5b4333"/><path d="M1141,880 L1181,870 L1222,859 L1263,848 L1303,837 L1342,826 L1382,816 L1427,804 L1472,792 L1504,783" stroke="#5a4232"/><path d="M1141,885 L1181,875 L1223,864 L1263,853 L1303,842 L1342,831 L1382,821 L1427,809 L1472,797 L1504,788" stroke="#584030"/><path d="M1141,890 L1181,880 L1223,869 L1263,858 L1303,847 L1342,836 L1382,826 L1427,814 L1472,802 L1504,793" stroke="#573f2f"/><path d="M1141,896 L1181,885 L1223,874 L1263,863 L1303,852 L1342,842 L1382,831 L1427,819 L1472,807 L1504,798" stroke="#513929"/><path d="M1141,901 L1182,891 L1223,879 L1264,868 L1303,857 L1342,847 L1382,836 L1427,824 L1472,812 L1504,803" stroke="#3e2919"/><path d="M1141,906 L1182,896 L1223,885 L1264,874 L1303,863 L1342,852 L1382,841 L1427,829 L1472,817 L1504,808" stroke="#4f3118"/><path d="M1141,911 L1182,901 L1223,890 L1264,879 L1303,868 L1342,857 L1382,846 L1427,834 L1472,822 L1504,813" stroke="#653f1c"/><path d="M1141,917 L1182,906 L1223,895 L1264,884 L1303,873 L1342,862 L1382,851 L1427,839 L1472,827 L1504,818" stroke="#67411d"/><path d="M1141,922 L1182,911 L1223,900 L1264,889 L1303,878 L1342,867 L1382,856 L1427,844 L1472,831 L1504,823" stroke="#6a431d"/><path d="M1141,927 L1182,917 L1223,905 L1264,894 L1303,883 L1342,872 L1382,861 L1427,849 L1472,836 L1504,828" stroke="#6d451e"/><path d="M1142,932 L1182,922 L1223,911 L1264,899 L1303,888 L1342,877 L1382,866 L1427,854 L1472,841 L1504,833" stroke="#6e461e"/><path d="M1142,938 L1182,927 L1223,916 L1264,904 L1304,893 L1343,882 L1382,871 L1427,859 L1472,846 L1504,838" stroke="#6d451d"/><path d="M1142,943 L1182,932 L1223,921 L1264,910 L1304,898 L1343,887 L1382,876 L1427,864 L1472,851 L1504,843" stroke="#6c441d"/><path d="M1142,948 L1182,938 L1224,926 L1264,915 L1304,903 L1343,892 L1382,881 L1427,869 L1472,856 L1504,848" stroke="#6b431c"/><path d="M1142,953 L1182,943 L1224,931 L1264,920 L1304,909 L1343,897 L1382,886 L1427,874 L1472,861 L1504,853" stroke="#5e3b1a"/><path d="M1142,959 L1183,948 L1224,937 L1264,925 L1304,914 L1343,902 L1382,891 L1427,879 L1472,866 L1504,858" stroke="#412917"/><path d="M1142,964 L1183,953 L1224,942 L1264,930 L1304,919 L1343,907 L1382,896 L1427,884 L1472,871 L1504,863" stroke="#4b3424"/><path d="M1142,969 L1183,958 L1224,947 L1264,935 L1304,924 L1343,912 L1382,901 L1427,889 L1472,876 L1504,867" stroke="#584030"/><path d="M1142,974 L1183,964 L1224,952 L1264,940 L1304,929 L1343,918 L1382,906 L1427,894 L1472,881 L1504,872" stroke="#594131"/><path d="M1142,980 L1183,969 L1224,957 L1265,946 L1304,934 L1343,923 L1382,911 L1427,899 L1472,886 L1504,877" stroke="#5a4232"/><path d="M1142,985 L1183,974 L1224,962 L1265,951 L1304,939 L1343,928 L1382,916 L1427,904 L1472,891 L1504,882" stroke="#5b4333"/><path d="M1143,990 L1183,979 L1224,968 L1265,956 L1304,944 L1343,933 L1382,921 L1427,909 L1472,896 L1504,887" stroke="#5c4434"/><path d="M1143,995 L1183,985 L1224,973 L1265,961 L1304,949 L1343,938 L1382,926 L1427,914 L1472,901 L1504,892" stroke="#5a4232"/><path d="M1143,1001 L1183,990 L1224,978 L1265,966 L1304,955 L1343,943 L1382,931 L1427,919 L1472,906 L1504,897" stroke="#594131"/><path d="M1143,1006 L1183,995 L1224,983 L1265,971 L1304,960 L1343,948 L1382,936 L1427,924 L1472,911 L1504,902" stroke="#584030"/><path d="M1143,1011 L1183,1000 L1224,988 L1265,976 L1304,965 L1343,953 L1382,941 L1427,929 L1472,916 L1504,907" stroke="#563e2e"/><path d="M1143,1016 L1184,1005 L1225,994 L1265,982 L1304,970 L1343,958 L1383,946 L1427,934 L1472,921 L1504,912" stroke="#452f1f"/><path d="M1143,1022 L1184,1011 L1225,999 L1265,987 L1304,975 L1343,963 L1383,951 L1427,939 L1472,926 L1504,917" stroke="#432b16"/><path d="M1143,1027 L1184,1016 L1225,1004 L1265,992 L1305,980 L1343,968 L1383,956 L1427,944 L1472,931 L1504,922" stroke="#643e1c"/><path d="M1143,1032 L1184,1021 L1225,1009 L1265,997 L1305,985 L1343,973 L1383,961 L1427,949 L1472,936 L1504,927" stroke="#67401d"/><path d="M1143,1037 L1184,1026 L1225,1014 L1265,1002 L1305,990 L1343,978 L1383,966 L1427,954 L1472,941 L1504,932" stroke="#6a421d"/><path d="M1144,1043 L1184,1032 L1225,1019 L1265,1007 L1305,995 L1343,983 L1383,971 L1427,958 L1472,946 L1504,937" stroke="#6c451e"/><path d="M1144,1048 L1184,1037 L1225,1025 L1265,1013 L1305,1000 L1344,988 L1383,976 L1427,963 L1472,951 L1504,942" stroke="#6e461e"/><path d="M1144,1053 L1184,1042 L1225,1030 L1266,1018 L1305,1006 L1344,993 L1383,981 L1427,968 L1472,956 L1504,947" stroke="#6d451d"/><path d="M1144,1058 L1184,1047 L1225,1035 L1266,1023 L1305,1011 L1344,999 L1383,987 L1427,973 L1472,961 L1504,952" stroke="#6c441d"/><path d="M1144,1064 L1184,1052 L1225,1040 L1266,1028 L1305,1016 L1344,1004 L1383,992 L1427,978 L1472,966 L1504,957" stroke="#6b431c"/><path d="M1144,1069 L1185,1058 L1225,1045 L1266,1033 L1305,1021 L1344,1009 L1383,997 L1427,983 L1472,971 L1504,961" stroke="#5c391a"/><path d="M1144,1074 L1185,1063 L1225,1051 L1266,1038 L1305,1026 L1344,1014 L1383,1002 L1427,988 L1472,975 L1504,966" stroke="#3e2716"/><path d="M1144,1079 L1185,1068 L1226,1056 L1266,1043 L1305,1031 L1344,1019 L1383,1007 L1427,993 L1472,980 L1504,971" stroke="#4e3626"/><path d="M1144,1085 L1185,1073 L1226,1061 L1266,1049 L1305,1036 L1344,1024 L1383,1012 L1427,998 L1472,985 L1504,976" stroke="#584030"/><path d="M1144,1090 L1185,1079 L1226,1066 L1266,1054 L1305,1041 L1344,1029 L1383,1017 L1428,1003 L1472,990 L1504,981" stroke="#594131"/><path d="M1145,1095 L1185,1084 L1226,1071 L1266,1059 L1305,1046 L1344,1034 L1383,1022 L1428,1008 L1472,995 L1504,986" stroke="#5a4232"/><path d="M1145,1100 L1185,1089 L1226,1077 L1266,1064 L1305,1052 L1344,1039 L1383,1027 L1428,1013 L1473,1000 L1504,991" stroke="#5c4434"/><path d="M1145,1106 L1185,1094 L1226,1082 L1266,1069 L1305,1057 L1344,1044 L1383,1032 L1428,1018 L1473,1005 L1504,996" stroke="#5b4333"/><path d="M1145,1111 L1185,1099 L1226,1087 L1266,1074 L1305,1062 L1344,1049 L1383,1037 L1428,1023 L1473,1010 L1504,1001" stroke="#5a4232"/><path d="M1145,1116 L1185,1105 L1226,1092 L1266,1079 L1305,1067 L1344,1054 L1383,1042 L1428,1028 L1473,1015 L1504,1006" stroke="#584030"/><path d="M1145,1121 L1185,1110 L1226,1097 L1266,1085 L1306,1072 L1344,1059 L1383,1047 L1428,1033 L1473,1020 L1504,1011" stroke="#573f2f"/><path d="M1145,1127 L1186,1115 L1226,1102 L1266,1090 L1306,1077 L1344,1064 L1383,1052 L1428,1038 L1473,1025 L1504,1016" stroke="#503929"/><path d="M1145,1132 L1186,1120 L1226,1108 L1267,1095 L1306,1082 L1344,1069 L1383,1057 L1428,1043 L1473,1030 L1504,1021" stroke="#3c2818"/><path d="M1145,1137 L1186,1126 L1226,1113 L1267,1100 L1306,1087 L1344,1075 L1383,1062 L1428,1048 L1473,1035 L1504,1026" stroke="#533419"/><path d="M1145,1142 L1186,1131 L1227,1118 L1267,1105 L1306,1092 L1344,1080 L1383,1067 L1428,1053 L1473,1040 L1504,1031" stroke="#653f1c"/><path d="M1145,1148 L1186,1136 L1227,1123 L1267,1110 L1306,1098 L1344,1085 L1383,1072 L1428,1058 L1473,1045 L1504,1036" stroke="#68411d"/><path d="M1146,1153 L1186,1141 L1227,1128 L1267,1115 L1306,1103 L1344,1090 L1383,1077 L1428,1063 L1473,1050 L1504,1041" stroke="#6b441d"/><path d="M1146,1158 L1186,1146 L1227,1134 L1267,1121 L1306,1108 L1344,1095 L1383,1082 L1428,1068 L1473,1055 L1504,1046" stroke="#6e461e"/><path d="M1146,1163 L1186,1152 L1227,1139 L1267,1126 L1306,1113 L1345,1100 L1383,1087 L1428,1073 L1473,1060 L1504,1051" stroke="#6d451e"/><path d="M1146,1169 L1186,1157 L1227,1144 L1267,1131 L1306,1118 L1345,1105 L1384,1092 L1428,1078 L1473,1065 L1504,1055" stroke="#6c441d"/><path d="M1146,1174 L1186,1162 L1227,1149 L1267,1136 L1306,1123 L1345,1110 L1384,1097 L1428,1083 L1473,1070 L1504,1060" stroke="#6b431c"/><path d="M1146,1179 L1186,1167 L1227,1154 L1267,1141 L1306,1128 L1345,1115 L1384,1102 L1428,1088 L1473,1075 L1504,1065" stroke="#68411c"/><path d="M1146,1184 L1187,1173 L1227,1160 L1267,1146 L1306,1133 L1345,1120 L1384,1107 L1428,1093 L1473,1080 L1504,1070" stroke="#492e18"/><path d="M1146,1190 L1187,1178 L1227,1165 L1267,1152 L1306,1138 L1345,1125 L1384,1112 L1428,1098 L1473,1085 L1504,1075" stroke="#473020"/><path d="M1146,1195 L1187,1183 L1227,1170 L1267,1157 L1306,1144 L1345,1130 L1384,1117 L1428,1103 L1473,1090 L1504,1080" stroke="#584030"/><path d="M1146,1200 L1187,1188 L1227,1175 L1267,1162 L1306,1149 L1345,1135 L1384,1122 L1428,1108 L1473,1095 L1504,1085" stroke="#594131"/><path d="M1147,1205 L1187,1193 L1227,1180 L1268,1167 L1306,1154 L1345,1140 L1384,1127 L1428,1113 L1473,1100 L1504,1090" stroke="#5a4232"/><path d="M1147,1211 L1187,1199 L1228,1185 L1268,1172 L1307,1159 L1345,1145 L1384,1132 L1428,1118 L1473,1105 L1504,1095" stroke="#5b4333"/><path d="M1147,1216 L1187,1204 L1228,1191 L1268,1177 L1307,1164 L1345,1150 L1384,1137 L1428,1123 L1473,1110 L1504,1100" stroke="#5c4434"/><path d="M1147,1221 L1187,1209 L1228,1196 L1268,1182 L1307,1169 L1345,1156 L1384,1142 L1428,1128 L1473,1115 L1504,1105" stroke="#5a4232"/><path d="M1147,1226 L1187,1214 L1228,1201 L1268,1188 L1307,1174 L1345,1161 L1384,1147 L1428,1133 L1473,1120 L1504,1110" stroke="#594131"/><path d="M1147,1232 L1187,1220 L1228,1206 L1268,1193 L1307,1179 L1345,1166 L1384,1152 L1428,1138 L1473,1124 L1504,1115" stroke="#573f2f"/><path d="M1147,1237 L1187,1225 L1228,1211 L1268,1198 L1307,1184 L1345,1171 L1384,1157 L1428,1143 L1473,1129 L1504,1120" stroke="#563e2e"/><path d="M1147,1242 L1188,1230 L1228,1217 L1268,1203 L1307,1189 L1345,1176 L1384,1162 L1428,1148 L1473,1134 L1504,1125" stroke="#422c1c"/><path d="M1147,1247 L1188,1235 L1228,1222 L1268,1208 L1307,1195 L1345,1181 L1384,1167 L1428,1153 L1473,1139 L1504,1130" stroke="#4a2f17"/><path d="M1147,1253 L1188,1240 L1228,1227 L1268,1213 L1307,1200 L1345,1186 L1384,1173 L1428,1158 L1473,1144 L1504,1135" stroke="#653f1c"/><path d="M1148,1258 L1188,1246 L1228,1232 L1268,1218 L1307,1205 L1345,1191 L1384,1178 L1428,1163 L1473,1149 L1504,1140" stroke="#67411d"/><path d="M1148,1263 L1188,1251 L1228,1237 L1268,1224 L1307,1210 L1345,1196 L1384,1183 L1428,1168 L1473,1154 L1504,1145" stroke="#6a431d"/><path d="M1148,1268 L1188,1256 L1228,1242 L1268,1229 L1307,1215 L1345,1201 L1384,1188 L1428,1173 L1473,1159 L1504,1149" stroke="#6d451e"/><path d="M1148,1274 L1188,1261 L1229,1248 L1268,1234 L1307,1220 L1346,1206 L1384,1193 L1428,1178 L1473,1164 L1504,1154" stroke="#6d451e"/><path d="M1148,1279 L1188,1266 L1229,1253 L1269,1239 L1307,1225 L1346,1211 L1384,1198 L1428,1183 L1473,1169 L1504,1159" stroke="#6c441d"/><path d="M1148,1284 L1188,1272 L1229,1258 L1269,1244 L1307,1230 L1346,1216 L1384,1203 L1428,1188 L1473,1174 L1504,1164" stroke="#6c431d"/><path d="M1148,1289 L1188,1277 L1229,1263 L1269,1249 L1307,1235 L1346,1221 L1384,1208 L1428,1193 L1473,1179 L1504,1169" stroke="#6c421c"/><path d="M1148,1295 L1188,1282 L1229,1268 L1269,1254 L1307,1241 L1346,1226 L1384,1213 L1428,1198 L1473,1184 L1504,1174" stroke="#613c1a"/><path d="M1148,1300 L1189,1287 L1229,1274 L1269,1260 L1308,1246 L1346,1232 L1384,1218 L1428,1203 L1473,1189 L1504,1179" stroke="#613c1c"/><path d="M1148,1305 L1189,1293 L1229,1279 L1269,1265 L1308,1251 L1346,1237 L1384,1223 L1428,1208 L1473,1194 L1504,1184" stroke="#6b421e"/><path d="M1148,1310 L1189,1298 L1229,1284 L1269,1270 L1308,1256 L1346,1242 L1384,1228 L1428,1213 L1473,1199 L1504,1189" stroke="#6e431c"/><path d="M1149,1316 L1189,1303 L1229,1289 L1269,1275 L1308,1261 L1346,1247 L1384,1233 L1428,1218 L1473,1204 L1504,1194" stroke="#6e431c"/><path d="M1149,1321 L1189,1308 L1229,1294 L1269,1280 L1308,1266 L1346,1252 L1385,1238 L1428,1223 L1473,1209 L1504,1199" stroke="#6e431c"/><path d="M1149,1326 L1189,1313 L1229,1300 L1269,1285 L1308,1271 L1346,1257 L1385,1243 L1429,1228 L1473,1214 L1504,1204" stroke="#6e431c"/><path d="M1149,1331 L1189,1319 L1229,1305 L1269,1291 L1308,1276 L1346,1262 L1385,1248 L1429,1233 L1473,1219 L1504,1209" stroke="#6e431c"/><path d="M1149,1337 L1189,1324 L1230,1310 L1269,1296 L1308,1281 L1346,1267 L1385,1253 L1429,1238 L1473,1224 L1504,1214" stroke="#6e431c"/><path d="M1149,1342 L1189,1329 L1230,1315 L1269,1301 L1308,1287 L1346,1272 L1385,1258 L1429,1243 L1473,1229 L1504,1219" stroke="#6e431c"/><path d="M1149,1347 L1189,1334 L1230,1320 L1269,1306 L1308,1292 L1346,1277 L1385,1263 L1429,1248 L1473,1234 L1504,1224" stroke="#6e431c"/><path d="M1149,1352 L1189,1340 L1230,1325 L1269,1311 L1308,1297 L1346,1282 L1385,1268 L1429,1253 L1473,1239 L1504,1229" stroke="#6e431c"/><path d="M1149,1358 L1190,1345 L1230,1331 L1270,1316 L1308,1302 L1346,1287 L1385,1273 L1429,1258 L1473,1244 L1504,1234" stroke="#6b411b"/><path d="M1149,1363 L1190,1350 L1230,1336 L1270,1321 L1308,1307 L1346,1292 L1385,1278 L1429,1263 L1473,1249 L1504,1239" stroke="#663e1a"/><path d="M1150,1368 L1190,1355 L1230,1341 L1270,1327 L1308,1312 L1346,1297 L1385,1283 L1429,1268 L1473,1254 L1504,1243" stroke="#613b19"/><path d="M1150,1373 L1190,1360 L1230,1346 L1270,1332 L1308,1317 L1346,1302 L1385,1288 L1429,1273 L1473,1259 L1504,1248" stroke="#5c3718"/><path d="M1150,1379 L1190,1366 L1230,1351 L1270,1337 L1308,1322 L1346,1307 L1385,1293 L1429,1278 L1473,1264 L1504,1253" stroke="#573417"/><path d="M1150,1384 L1190,1371 L1230,1357 L1270,1342 L1308,1327 L1346,1313 L1385,1298 L1429,1283 L1473,1268 L1504,1258" stroke="#523117"/><path d="M1150,1389 L1190,1376 L1230,1362 L1270,1347 L1309,1332 L1347,1318 L1385,1303 L1429,1288 L1473,1273 L1504,1263" stroke="#4d2e16"/><path d="M1150,1394 L1190,1381 L1230,1367 L1270,1352 L1309,1338 L1347,1323 L1385,1308 L1429,1293 L1473,1278 L1504,1268" stroke="#482b15"/><path d="M1150,1400 L1190,1387 L1230,1372 L1270,1357 L1309,1343 L1347,1328 L1385,1313 L1429,1298 L1473,1283 L1504,1273" stroke="#432714"/></g></g>
<path d="M526.4,558.1 L526.7,560.1 L527.1,563 L527.7,566.7 L528.9,570.4 L530.5,574 L532.4,577.7 L534.9,581.4 L537.8,585.1 L541.1,588.5 L544.9,591.8 L549,595 L553.4,598.1 L558.1,601.1 L563.2,604.1 L568.5,606.9 L573.9,609.5 L578.9,611.8 L583.8,613.8 L589.4,615.9 L596.5,618.1 L604.8,620.5 L614,623 L625.1,625.8 L638.8,628.9 L656.1,632.6 L676.4,636.7 L697.9,640.8 L718.8,644.4 L738.3,647.8 L757.7,651.1 L777.7,654 L799.4,656.3 L822.8,657.8 L847.3,658.7 L873.1,659 L900.1,659 L929.7,658.5 L961.5,657.6 L992.7,656.3 L1020.6,654.5 L1044.7,652 L1066.4,648.9 L1085.4,645.7 L1101.3,642.9 L1114,640.4 L1123.7,638.1 L1130.8,636.1 L1135.8,634.8 L1132.2,621.2 L1127.1,622.6 L1120.3,624.5 L1111.1,626.7 L1098.7,629.1 L1083,631.9 L1064.3,635.1 L1043,638.1 L1019.4,640.5 L992,642.3 L961,643.6 L929.4,644.5 L899.9,645 L873.2,645 L847.7,644.7 L823.5,643.8 L800.6,642.3 L779.5,640.1 L759.8,637.2 L740.7,634 L721.2,630.6 L700.3,627 L678.9,623.3 L658.6,619.9 L641.2,616.7 L627.6,614.1 L616.7,611.7 L607.6,609.6 L599.5,607.5 L592.7,605.6 L587.5,603.9 L582.9,602.1 L578.1,600.1 L573,597.8 L567.9,595.2 L563.1,592.6 L558.6,589.9 L554.6,587.2 L550.8,584.5 L547.5,581.7 L544.6,578.9 L542.3,576.1 L540.4,573 L538.8,570 L537.5,567.2 L536.7,564.5 L536.1,561.6 L535.8,558.9 L535.6,556.9Z" fill="#2c2c2c" stroke="#2c2c2c" stroke-width="0.8" stroke-linejoin="round"/>
<path d="M1132.2,634.3 L1150.4,631 L1176.3,626.4 L1201.4,621.5 L1222.9,616.5 L1243.4,611.4 L1261.6,606.9 L1276.3,603.4 L1288.9,600.5 L1301.4,597.8 L1313.9,595.2 L1326.5,592.8 L1341.4,589.6 L1360.4,585.4 L1381.5,580.4 L1401.6,575.6 L1419,571.1 L1435.1,566.8 L1451.5,562.7 L1470.7,558.6 L1490.4,554.8 L1504.3,552.1 L1501.7,539.1 L1487.9,541.8 L1468.1,545.7 L1448.5,549.9 L1431.8,554 L1415.6,558.4 L1398.4,562.8 L1378.5,567.6 L1357.4,572.5 L1338.6,576.8 L1323.9,579.8 L1311.3,582.3 L1298.6,584.8 L1286,587.7 L1273.3,590.6 L1258.4,594.1 L1240.2,598.6 L1219.9,603.7 L1198.6,608.5 L1173.9,613.4 L1148.1,618 L1129.8,621.3Z" fill="#262626" stroke="#262626" stroke-width="0.8" stroke-linejoin="round"/>
<path d="M699.1,631.7 L720,635.3 L739.5,638.7 L758.8,641.9 L778.6,644.9 L800,647.1 L823.1,648.6 L847.5,649.5 L873.1,649.8 L900,649.8 L929.5,649.3 L961.2,648.4 L992.3,647.1 L1020,645.3 L1043.9,642.8 L1065.4,639.8 L1084.2,636.6 L1100,633.8 L1112.5,631.4 L1122,629.1 L1129,627.2 L1134,625.8" fill="none" stroke="#5a5a5a" stroke-width="4" stroke-dasharray="1.6 1.6" opacity="0.55"/>
<path d="M699.1,636.1 L720,639.7 L739.5,643.1 L758.8,646.3 L778.6,649.3 L800,651.5 L823.1,653 L847.5,653.9 L873.1,654.2 L900,654.2 L929.5,653.7 L961.2,652.8 L992.3,651.5 L1020,649.7 L1043.9,647.2 L1065.4,644.2 L1084.2,641 L1100,638.2 L1112.5,635.8 L1122,633.5 L1129,631.6 L1134,630.2" fill="none" stroke="#505050" stroke-width="4" stroke-dasharray="1.6 1.6" stroke-dashoffset="1.6" opacity="0.55"/>
<g clip-path="url(#pL)"><g transform="translate(500,520) skewY(14)"><rect x="0" y="-120" width="300" height="1000" filter="url(#grainA)" opacity="0.55"/><rect x="0" y="-120" width="300" height="1000" filter="url(#grainB)" opacity="0.5"/></g></g>
<g clip-path="url(#pC)"><rect x="740" y="620" width="430" height="830" filter="url(#grainA)" opacity="0.55"/><rect x="740" y="620" width="430" height="830" filter="url(#grainB)" opacity="0.5"/><rect x="740" y="620" width="430" height="830" filter="url(#grainL)" opacity="0.22"/></g>
<g clip-path="url(#pR)"><g transform="translate(1130,640) skewY(-14.5)"><rect x="0" y="-20" width="380" height="900" filter="url(#grainA)" opacity="0.7000000000000001"/><rect x="0" y="-20" width="380" height="900" filter="url(#grainB)" opacity="0.6"/><rect x="0" y="-20" width="380" height="900" filter="url(#grainL)" opacity="0.22"/></g></g>
<g clip-path="url(#bodyclip)"><rect x="510" y="540" width="90" height="900" fill="url(#ledge)"/><ellipse cx="930" cy="671" rx="120" ry="8" fill="#d6ccc2" opacity="0.55" filter="url(#b6)"/><ellipse cx="915" cy="671" rx="45" ry="6" fill="#f4f1ee" opacity="0.7" filter="url(#b3)"/><ellipse cx="940" cy="787" rx="130" ry="11" fill="#d2c8bc" opacity="0.55" filter="url(#b6)"/><ellipse cx="915" cy="787" rx="40" ry="7" fill="#f6f3f0" opacity="0.75" filter="url(#b3)"/><ellipse cx="902" cy="789" rx="14" ry="6" fill="#ffffff" opacity="0.85" filter="url(#b3)"/><ellipse cx="945" cy="904" rx="130" ry="10" fill="#c8bcae" opacity="0.45" filter="url(#b6)"/><ellipse cx="935" cy="905" rx="35" ry="5" fill="#e8e0d8" opacity="0.4" filter="url(#b3)"/><ellipse cx="940" cy="1024" rx="120" ry="9" fill="#c8bcae" opacity="0.3" filter="url(#b6)"/><ellipse cx="950" cy="1138" rx="120" ry="9" fill="#c8bcae" opacity="0.25" filter="url(#b6)"/><ellipse cx="990" cy="1250" rx="120" ry="9" fill="#d0bfae" opacity="0.4" filter="url(#b6)"/></g>
<g clip-path="url(#bodyclip)"><path d="M1138.1,635 L1140.2,645.8 L1140.9,656.6 L1140.1,667.4 L1138.2,678.3 L1135.8,689.1 L1133.8,699.9 L1132.9,710.7 L1133.5,721.5 L1135.5,732.3 L1138.2,743.1 L1140.8,754 L1142.6,764.8 L1143,775.6 L1141.8,786.4 L1139.5,797.2 L1137.1,808 L1135.4,818.8 L1135.1,829.7 L1136.4,840.5 L1138.9,851.3 L1141.8,862.1 L1144.1,872.9 L1145.1,883.7 L1144.7,894.5 L1143.1,905.4 L1140.8,916.2 L1138.6,927 L1137.3,937.8 L1137.4,948.6 L1138.9,959.4 L1141.4,970.2 L1144.1,981.1 L1146.3,991.9 L1147.3,1002.7 L1146.7,1013.5 L1144.9,1024.3 L1142.5,1035.1 L1140.3,1045.9 L1139.4,1056.8 L1139.9,1067.6 L1141.9,1078.4 L1144.7,1089.2 L1147.4,1100 L1149.1,1110.8 L1149.3,1121.6 L1147.9,1132.5 L1145.6,1143.3 L1143.2,1154.1 L1141.7,1164.9 L1141.6,1175.7 L1143.1,1186.5 L1145.7,1197.3 L1148.6,1208.2 L1150.7,1219 L1151.5,1229.8 L1150.6,1240.6 L1148.5,1251.4 L1146,1262.2 L1144.1,1273 L1143.5,1283.9 L1144.5,1294.7 L1146.9,1305.5 L1149.8,1316.3 L1152.2,1327.1 L1153.5,1337.9 L1153.1,1348.7 L1151.3,1359.6 L1148.8,1370.4 L1146.6,1381.2 L1145.6,1392" fill="none" stroke="#1d120a" stroke-width="2.2"/><path d="M1140.1,635 L1142.2,645.8 L1142.9,656.6 L1142.1,667.4 L1140.2,678.3 L1137.8,689.1 L1135.8,699.9 L1134.9,710.7 L1135.5,721.5 L1137.5,732.3 L1140.2,743.1 L1142.8,754 L1144.6,764.8 L1145,775.6 L1143.8,786.4 L1141.5,797.2 L1139.1,808 L1137.4,818.8 L1137.1,829.7 L1138.4,840.5 L1140.9,851.3 L1143.8,862.1 L1146.1,872.9 L1147.1,883.7 L1146.7,894.5 L1145.1,905.4 L1142.8,916.2 L1140.6,927 L1139.3,937.8 L1139.4,948.6 L1140.9,959.4 L1143.4,970.2 L1146.1,981.1 L1148.3,991.9 L1149.3,1002.7 L1148.7,1013.5 L1146.9,1024.3 L1144.5,1035.1 L1142.3,1045.9 L1141.4,1056.8 L1141.9,1067.6 L1143.9,1078.4 L1146.7,1089.2 L1149.4,1100 L1151.1,1110.8 L1151.3,1121.6 L1149.9,1132.5 L1147.6,1143.3 L1145.2,1154.1 L1143.7,1164.9 L1143.6,1175.7 L1145.1,1186.5 L1147.7,1197.3 L1150.6,1208.2 L1152.7,1219 L1153.5,1229.8 L1152.6,1240.6 L1150.5,1251.4 L1148,1262.2 L1146.1,1273 L1145.5,1283.9 L1146.5,1294.7 L1148.9,1305.5 L1151.8,1316.3 L1154.2,1327.1 L1155.5,1337.9 L1155.1,1348.7 L1153.3,1359.6 L1150.8,1370.4 L1148.6,1381.2 L1147.6,1392" fill="none" stroke="#8a6038" stroke-width="1" opacity="0.6"/><path d="M1144.1,635 L1146.2,645.8 L1146.9,656.6 L1146.1,667.4 L1144.2,678.3 L1141.8,689.1 L1139.8,699.9 L1138.9,710.7 L1139.5,721.5 L1141.5,732.3 L1144.2,743.1 L1146.8,754 L1148.6,764.8 L1149,775.6 L1147.8,786.4 L1145.5,797.2 L1143.1,808 L1141.4,818.8 L1141.1,829.7 L1142.4,840.5 L1144.9,851.3 L1147.8,862.1 L1150.1,872.9 L1151.1,883.7 L1150.7,894.5 L1149.1,905.4 L1146.8,916.2 L1144.6,927 L1143.3,937.8 L1143.4,948.6 L1144.9,959.4 L1147.4,970.2 L1150.1,981.1 L1152.3,991.9 L1153.3,1002.7 L1152.7,1013.5 L1150.9,1024.3 L1148.5,1035.1 L1146.3,1045.9 L1145.4,1056.8 L1145.9,1067.6 L1147.9,1078.4 L1150.7,1089.2 L1153.4,1100 L1155.1,1110.8 L1155.3,1121.6 L1153.9,1132.5 L1151.6,1143.3 L1149.2,1154.1 L1147.7,1164.9 L1147.6,1175.7 L1149.1,1186.5 L1151.7,1197.3 L1154.6,1208.2 L1156.7,1219 L1157.5,1229.8 L1156.6,1240.6 L1154.5,1251.4 L1152,1262.2 L1150.1,1273 L1149.5,1283.9 L1150.5,1294.7 L1152.9,1305.5 L1155.8,1316.3 L1158.2,1327.1 L1159.5,1337.9 L1159.1,1348.7 L1157.3,1359.6 L1154.8,1370.4 L1152.6,1381.2 L1151.6,1392" fill="none" stroke="#2a170a" stroke-width="9" opacity="0.25" filter="url(#b2)"/></g>
<g clip-path="url(#bodyclip)"><path d="M744.6,649 L745.3,660 L745.7,671 L745.7,681.9 L745.4,692.9 L745,703.9 L744.6,714.9 L744.6,725.9 L745,736.8 L745.7,747.8 L746.6,758.8 L747.5,769.8 L748.2,780.7 L748.5,791.7 L748.4,802.7 L748,813.7 L747.6,824.7 L747.3,835.6 L747.4,846.6 L748,857.6 L748.8,868.6 L749.8,879.5 L750.6,890.5 L751.1,901.5 L751.2,912.5 L751,923.5 L750.6,934.4 L750.2,945.4 L750.1,956.4 L750.3,967.4 L750.9,978.4 L751.7,989.3 L752.7,1000.3 L753.5,1011.3 L753.9,1022.3 L754,1033.2 L753.7,1044.2 L753.3,1055.2 L752.9,1066.2 L752.8,1077.2 L753.2,1088.1 L753.9,1099.1 L754.9,1110.1 L755.8,1121.1 L756.5,1132.1 L756.7,1143 L756.6,1154 L756.1,1165 L755.7,1176 L755.5,1186.9 L755.7,1197.9 L756.3,1208.9 L757.2,1219.9 L758.2,1230.9 L758.9,1241.8 L759.3,1252.8 L759.3,1263.8 L759,1274.8 L758.5,1285.8 L758.2,1296.7 L758.2,1307.7 L758.7,1318.7 L759.5,1329.7 L760.5,1340.7 L761.4,1351.6 L761.9,1362.6 L762,1373.6 L761.7,1384.6 L761.3,1395.5 L760.9,1406.5 L760.8,1417.5" fill="none" stroke="#2a180c" stroke-width="1.6" opacity="0.55"/></g>
<circle cx="757.8" cy="701.5" r="4.8" fill="#1a0f07" opacity="0.6"/><circle cx="757" cy="700" r="3.8" fill="url(#scr)" stroke="#55585c" stroke-width="0.7"/>
<circle cx="759.8" cy="816.5" r="4.8" fill="#1a0f07" opacity="0.6"/><circle cx="759" cy="815" r="3.8" fill="url(#scr)" stroke="#55585c" stroke-width="0.7"/>
<circle cx="762.8" cy="932.5" r="4.8" fill="#1a0f07" opacity="0.6"/><circle cx="762" cy="931" r="3.8" fill="url(#scr)" stroke="#55585c" stroke-width="0.7"/>
<circle cx="765.5" cy="1049.1" r="4.8" fill="#1a0f07" opacity="0.6"/><circle cx="764.7" cy="1047.6" r="3.8" fill="url(#scr)" stroke="#55585c" stroke-width="0.7"/>
<circle cx="766.4" cy="1166.5" r="4.8" fill="#1a0f07" opacity="0.6"/><circle cx="765.6" cy="1165" r="3.8" fill="url(#scr)" stroke="#55585c" stroke-width="0.7"/>
<circle cx="767.8" cy="1283.5" r="4.8" fill="#1a0f07" opacity="0.6"/><circle cx="767" cy="1282" r="3.8" fill="url(#scr)" stroke="#55585c" stroke-width="0.7"/>
<circle cx="773.4" cy="1401.1" r="4.8" fill="#1a0f07" opacity="0.6"/><circle cx="772.6" cy="1399.6" r="3.8" fill="url(#scr)" stroke="#55585c" stroke-width="0.7"/>
<circle cx="1158.5" cy="678.5" r="4.8" fill="#1a0f07" opacity="0.6"/><circle cx="1157.7" cy="677" r="3.8" fill="url(#scr)" stroke="#55585c" stroke-width="0.7"/>
<circle cx="1160.8" cy="792.5" r="4.8" fill="#1a0f07" opacity="0.6"/><circle cx="1160" cy="791" r="3.8" fill="url(#scr)" stroke="#55585c" stroke-width="0.7"/>
<circle cx="1164.8" cy="905.5" r="4.8" fill="#1a0f07" opacity="0.6"/><circle cx="1164" cy="904" r="3.8" fill="url(#scr)" stroke="#55585c" stroke-width="0.7"/>
<circle cx="1167.5" cy="1021.1" r="4.8" fill="#1a0f07" opacity="0.6"/><circle cx="1166.7" cy="1019.6" r="3.8" fill="url(#scr)" stroke="#55585c" stroke-width="0.7"/>
<circle cx="1168.8" cy="1137.2" r="4.8" fill="#1a0f07" opacity="0.6"/><circle cx="1168" cy="1135.7" r="3.8" fill="url(#scr)" stroke="#55585c" stroke-width="0.7"/>
<circle cx="1170.6" cy="1251.5" r="4.8" fill="#1a0f07" opacity="0.6"/><circle cx="1169.8" cy="1250" r="3.8" fill="url(#scr)" stroke="#55585c" stroke-width="0.7"/>
<circle cx="1170.6" cy="1366.5" r="4.8" fill="#1a0f07" opacity="0.6"/><circle cx="1169.8" cy="1365" r="3.8" fill="url(#scr)" stroke="#55585c" stroke-width="0.7"/>
<g clip-path="url(#c1)"><path d="M0,545 L460,560 L460,830 L0,830Z" fill="url(#c1L)"/><path d="M160,552 L460,562 L460,830 L178,830 Q158,700 160,552Z" fill="url(#c1R)"/><path d="M160,560 Q156,700 180,825" fill="none" stroke="#fafafa" stroke-width="2.5" opacity="0.8"/><path d="M157,560 Q153,700 177,825" fill="none" stroke="#b5b5b5" stroke-width="1" opacity="0.7"/><path d="M0,534.4 L16,534.7 L160,535.9 L300,540 L452,545.8 L452,570.4 L300,565.6 L160,557.8 L16,555.6 L0,555.4Z" fill="#424242"/><path d="M0,534.9 L16,535.2 L160,536.4 L300,540.5 L452,546.3" stroke="#303030" stroke-width="2" fill="none"/><path d="M0,541 L160,542.6 L300,547.5 L452,553" stroke="#5c5c5c" stroke-width="4.5" stroke-dasharray="2.4 2.4" opacity="0.85" fill="none"/><path d="M0,547 L160,548.8 L300,555 L452,560.5" stroke="#555" stroke-width="4.5" stroke-dasharray="2.4 2.4" stroke-dashoffset="2.4" opacity="0.85" fill="none"/><path d="M0,552.5 L160,554.5 L300,561.5 L452,566.5" stroke="#2e2e2e" stroke-width="4" stroke-dasharray="2.4 2.4" opacity="0.8" fill="none"/><path d="M200,540.5 L300,544 L440,549.5" stroke="#b5b5b5" stroke-width="1.8" stroke-dasharray="2 5" opacity="0.9" fill="none"/><path d="M0,556.4 L16,556.6 L160,558.8 L300,566.6 L452,571.4" stroke="#f0f0f0" stroke-width="1.6" opacity="0.9" fill="none"/><g transform="translate(184,607) rotate(-22)"><ellipse cx="-2" cy="6" rx="24" ry="6" fill="#fff" opacity="0.9"/><path d="M-20,2 q-8,4 -4,10 l12,-4 l-2,-8z" fill="#5a5a5a"/><path d="M8,-3 q12,-8 16,0 q0,8 -10,8z" fill="#555"/><rect x="-10" y="-8" width="17" height="15" rx="3" fill="#d9d9d9" stroke="#6d6d6d" stroke-width="1.4"/><path d="M-16,10 l10,-3 l2,5 l-10,4z" fill="#4c4c4c"/></g><path d="M143,810 L206,770 L226,748 L234,775 L224,800 L165,830Z" fill="#b9b9b9" stroke="#8a8a8a" stroke-width="1.2"/><path d="M150,812 L215,770" stroke="#e3e3e3" stroke-width="4"/><path d="M215,800 Q222,780 231,775 L228,815 L212,815Z" fill="#707070"/><path d="M178,748 l14,6 l-6,16 l-10,4z" fill="#e9e9e9" stroke="#aaa" stroke-width="1"/><path d="M176,776 l10,-10" stroke="#8c8c8c" stroke-width="3"/></g>
<g clip-path="url(#c2)"><rect x="0" y="955" width="460" height="470" fill="#c3c3bf"/><g fill="none" filter="url(#cb7)"><path d="M-5,997 L10,992 L25,988 L40,985 L55,982 L70,980 L85,979 L100,978 L115,978 L130,978 L145,978 L160,979 L175,979 L190,980 L205,982 L220,984 L235,986 L250,989 L265,992 L280,995 L295,999 L310,1004 L325,1009 L340,1015 L355,1021 L370,1028 L385,1036 L400,1044 L415,1053 L430,1063 L445,1073 L460,1084" stroke="#dcdcd8" stroke-width="28"/><path d="M-5,1069 L10,1065 L25,1060 L40,1057 L55,1054 L70,1052 L85,1051 L100,1050 L115,1050 L130,1050 L145,1050 L160,1051 L175,1051 L190,1053 L205,1054 L220,1056 L235,1058 L250,1061 L265,1064 L280,1068 L295,1072 L310,1077 L325,1082 L340,1088 L355,1095 L370,1102 L385,1110 L400,1119 L415,1128 L430,1138 L445,1149 L460,1160" stroke="#dcdcd8" stroke-width="28"/><path d="M-5,1138 L10,1133 L25,1129 L40,1126 L55,1123 L70,1121 L85,1119 L100,1118 L115,1118 L130,1118 L145,1119 L160,1119 L175,1120 L190,1121 L205,1123 L220,1124 L235,1127 L250,1130 L265,1133 L280,1137 L295,1141 L310,1146 L325,1151 L340,1157 L355,1164 L370,1171 L385,1179 L400,1188 L415,1197 L430,1207 L445,1218 L460,1230" stroke="#dcdcd8" stroke-width="28"/><path d="M-5,1214 L10,1209 L25,1204 L40,1200 L55,1197 L70,1195 L85,1193 L100,1193 L115,1192 L130,1192 L145,1193 L160,1193 L175,1194 L190,1195 L205,1197 L220,1199 L235,1202 L250,1205 L265,1208 L280,1213 L295,1217 L310,1223 L325,1229 L340,1235 L355,1243 L370,1251 L385,1259 L400,1269 L415,1279 L430,1290 L445,1302 L460,1315" stroke="#dcdcd8" stroke-width="28"/><path d="M-5,1292 L10,1285 L25,1280 L40,1276 L55,1272 L70,1270 L85,1268 L100,1267 L115,1267 L130,1267 L145,1267 L160,1268 L175,1269 L190,1270 L205,1272 L220,1274 L235,1277 L250,1281 L265,1285 L280,1290 L295,1295 L310,1301 L325,1308 L340,1316 L355,1325 L370,1334 L385,1344 L400,1355 L415,1367 L430,1379 L445,1393 L460,1408" stroke="#dcdcd8" stroke-width="28"/><path d="M-5,1350 L10,1343 L25,1336 L40,1331 L55,1326 L70,1323 L85,1321 L100,1320 L115,1320 L130,1320 L145,1320 L160,1321 L175,1322 L190,1324 L205,1326 L220,1329 L235,1333 L250,1337 L265,1342 L280,1348 L295,1354 L310,1362 L325,1370 L340,1380 L355,1390 L370,1401 L385,1414 L400,1427 L415,1442 L430,1457 L445,1474 L460,1492" stroke="#dcdcd8" stroke-width="28"/><path d="M-5,1027 L10,1023 L25,1019 L40,1015 L55,1012 L70,1010 L85,1009 L100,1008 L115,1008 L130,1008 L145,1008 L160,1009 L175,1010 L190,1011 L205,1012 L220,1014 L235,1016 L250,1019 L265,1022 L280,1026 L295,1030 L310,1035 L325,1040 L340,1046 L355,1053 L370,1060 L385,1068 L400,1076 L415,1085 L430,1095 L445,1106 L460,1117" stroke="#8b8b87" stroke-width="21"/><path d="M-5,1100 L10,1095 L25,1091 L40,1087 L55,1085 L70,1082 L85,1081 L100,1080 L115,1080 L130,1080 L145,1080 L160,1081 L175,1082 L190,1083 L205,1084 L220,1086 L235,1088 L250,1091 L265,1095 L280,1098 L295,1103 L310,1107 L325,1113 L340,1119 L355,1126 L370,1133 L385,1141 L400,1150 L415,1159 L430,1169 L445,1180 L460,1191" stroke="#8b8b87" stroke-width="21"/><path d="M-5,1166 L10,1161 L25,1157 L40,1153 L55,1151 L70,1148 L85,1147 L100,1146 L115,1146 L130,1146 L145,1146 L160,1147 L175,1148 L190,1149 L205,1150 L220,1152 L235,1155 L250,1157 L265,1161 L280,1164 L295,1169 L310,1174 L325,1179 L340,1185 L355,1192 L370,1199 L385,1207 L400,1216 L415,1225 L430,1235 L445,1246 L460,1258" stroke="#8b8b87" stroke-width="21"/><path d="M-5,1249 L10,1243 L25,1239 L40,1235 L55,1231 L70,1229 L85,1227 L100,1226 L115,1226 L130,1226 L145,1226 L160,1227 L175,1228 L190,1229 L205,1231 L220,1233 L235,1236 L250,1239 L265,1243 L280,1247 L295,1252 L310,1258 L325,1264 L340,1271 L355,1279 L370,1288 L385,1297 L400,1307 L415,1318 L430,1330 L445,1342 L460,1356" stroke="#8b8b87" stroke-width="21"/><path d="M-5,1322 L10,1316 L25,1310 L40,1306 L55,1302 L70,1299 L85,1297 L100,1296 L115,1296 L130,1296 L145,1296 L160,1297 L175,1298 L190,1300 L205,1302 L220,1304 L235,1307 L250,1311 L265,1316 L280,1321 L295,1326 L310,1333 L325,1340 L340,1348 L355,1357 L370,1367 L385,1378 L400,1389 L415,1402 L430,1415 L445,1430 L460,1445" stroke="#8b8b87" stroke-width="21"/></g><path d="M10,1370 L25,1363 L40,1357 L55,1352 L70,1348 L85,1346 L100,1344 L115,1344 L130,1344 L145,1345 L160,1346 L175,1347 L190,1349 L205,1351 L220,1355 L235,1359 L250,1364 L265,1369 L280,1376 L295,1384 L310,1392 L325,1402 L340,1412 L350,1440 L0,1440Z" fill="#fdfdfd" filter="url(#cb15)"/><rect x="0" y="1050" width="36" height="330" fill="#d8d8d4" opacity="0.55"/><path d="M36,1075 L36,1350" stroke="#a9a9a5" stroke-width="1.2"/><path d="M415,1078 Q424,1100 416,1122 Q404,1146 409,1170 Q414,1192 421,1215 Q426,1240 417,1262 Q405,1288 406,1312" fill="none" stroke="#3a3a38" stroke-width="2"/><path d="M418,1078 Q427,1100 419,1122 Q407,1146 412,1170 Q417,1192 424,1215 Q429,1240 420,1262 Q408,1288 409,1312 L452,1312 L452,1078Z" fill="#d4d4d0" opacity="0.5"/><g transform="translate(47.5,1108.5) rotate(-30)"><rect x="-7" y="-2.5" width="14" height="5" rx="2" fill="#9a9a96"/><circle r="3.4" fill="#e4e4e0" stroke="#8a8a86" stroke-width="0.8"/></g><g transform="translate(47.5,1179) rotate(-30)"><rect x="-7" y="-2.5" width="14" height="5" rx="2" fill="#9a9a96"/><circle r="3.4" fill="#e4e4e0" stroke="#8a8a86" stroke-width="0.8"/></g><g transform="translate(46,1250.5) rotate(-30)"><rect x="-7" y="-2.5" width="14" height="5" rx="2" fill="#9a9a96"/><circle r="3.4" fill="#e4e4e0" stroke="#8a8a86" stroke-width="0.8"/></g><g transform="translate(410,1092) rotate(-30)"><rect x="-7" y="-2.5" width="14" height="5" rx="2" fill="#9a9a96"/><circle r="3.4" fill="#e4e4e0" stroke="#8a8a86" stroke-width="0.8"/></g><g transform="translate(407,1257) rotate(-30)"><rect x="-7" y="-2.5" width="14" height="5" rx="2" fill="#9a9a96"/><circle r="3.4" fill="#e4e4e0" stroke="#8a8a86" stroke-width="0.8"/></g><g transform="rotate(-1.85 150 1187.5)"><rect x="-10" y="1182.8" width="165" height="9.4" fill="url(#barg)"/></g><g transform="rotate(-4.5 290 1179.8)"><rect x="285" y="1175.1" width="180" height="9.4" fill="url(#barg)"/></g><g transform="rotate(-3 220 1184.5)"><path d="M132,1180 L150,1175 L288,1175 L308,1180 L308,1189 L288,1194.5 L150,1194.5 L132,1189Z" fill="url(#barg)"/><rect x="152" y="1175" width="56" height="19.5" fill="#d2d2d0" opacity="0.75"/><path d="M209.5,1172 L209.5,1197.5" stroke="#6d6d70" stroke-width="1.8"/><rect x="211.5" y="1176" width="72" height="16.5" fill="#bdbdbb" stroke="#858583" stroke-width="1"/><circle cx="230" cy="1185" r="4.8" fill="#ededeb" stroke="#707073" stroke-width="1.3"/><path d="M238,1180 L282,1189.5" stroke="#efefed" stroke-width="3"/><path d="M213,1190.5 L282,1190.5" stroke="#8a8a88" stroke-width="1.5"/></g></g>
<circle cx="227.2" cy="592.2" r="222.8" fill="none" stroke="#1e8a36" stroke-width="4"/>
<circle cx="226.4" cy="1186.4" r="222.4" fill="none" stroke="#1e8a36" stroke-width="4"/>
<line x1="449" y1="557.6" x2="523" y2="557.6" stroke="#1e8a36" stroke-width="3"/><circle cx="524" cy="558" r="4.8" fill="#1e8a36"/>
<rect x="11" y="63.5" width="915" height="20" rx="10" ry="10" fill="#58585a"/>
<g font-weight="bold" font-size="94" stroke-linejoin="round"><text x="14" y="73.1" textLength="903" lengthAdjust="spacingAndGlyphs" fill="#fff" stroke="#fff" stroke-width="10">Stable support durable</text><text x="14" y="73.1" textLength="903" lengthAdjust="spacingAndGlyphs" fill="#1f9a37" stroke="#1f9a37" stroke-width="5.5">Stable support durable</text></g>
<g opacity="0.99"><text transform="translate(24,172.3) scale(0.95,1)" x="0" y="0" font-size="47" textLength="575.8" lengthAdjust="spacing" fill="#222" stroke="#fff" stroke-width="1.45">Made of upgraded coated</text></g>
<g opacity="0.99"><text transform="translate(24.5,216.3) scale(0.95,1)" x="0" y="0" font-size="47" textLength="509.5" lengthAdjust="spacing" fill="#222" stroke="#fff" stroke-width="1.45">steel plate with strong</text></g>
<g opacity="0.99"><text transform="translate(24.5,260.3) scale(0.95,1)" x="0" y="0" font-size="47" textLength="782.1" lengthAdjust="spacing" fill="#222" stroke="#fff" stroke-width="1.45">anti-rust and corrosion resistance</text></g>
<g opacity="0.99"><text x="118" y="855.6" font-size="31" font-weight="bold" fill="#222" textLength="217" lengthAdjust="spacingAndGlyphs">Rubber Edging</text><text x="108" y="1449.6" font-size="31" font-weight="bold" fill="#222" textLength="260" lengthAdjust="spacingAndGlyphs">4 Stabilizing Bars</text></g>
<g transform="translate(610.4,458.6) rotate(-9.2)"><text x="0" y="0" font-size="37" font-weight="bold" fill="#b5121b" stroke="#b5121b" stroke-width="0.6" textLength="834" lengthAdjust="spacing">Loosen the first screw slightly during installation.</text></g>
<line x1="1002" y1="402" x2="1030" y2="448" stroke="#b5121b" stroke-width="5.5" stroke-linecap="round"/>
<circle cx="1041.3" cy="467" r="21" fill="none" stroke="#b5121b" stroke-width="6"/>
</svg>
</body></html>
